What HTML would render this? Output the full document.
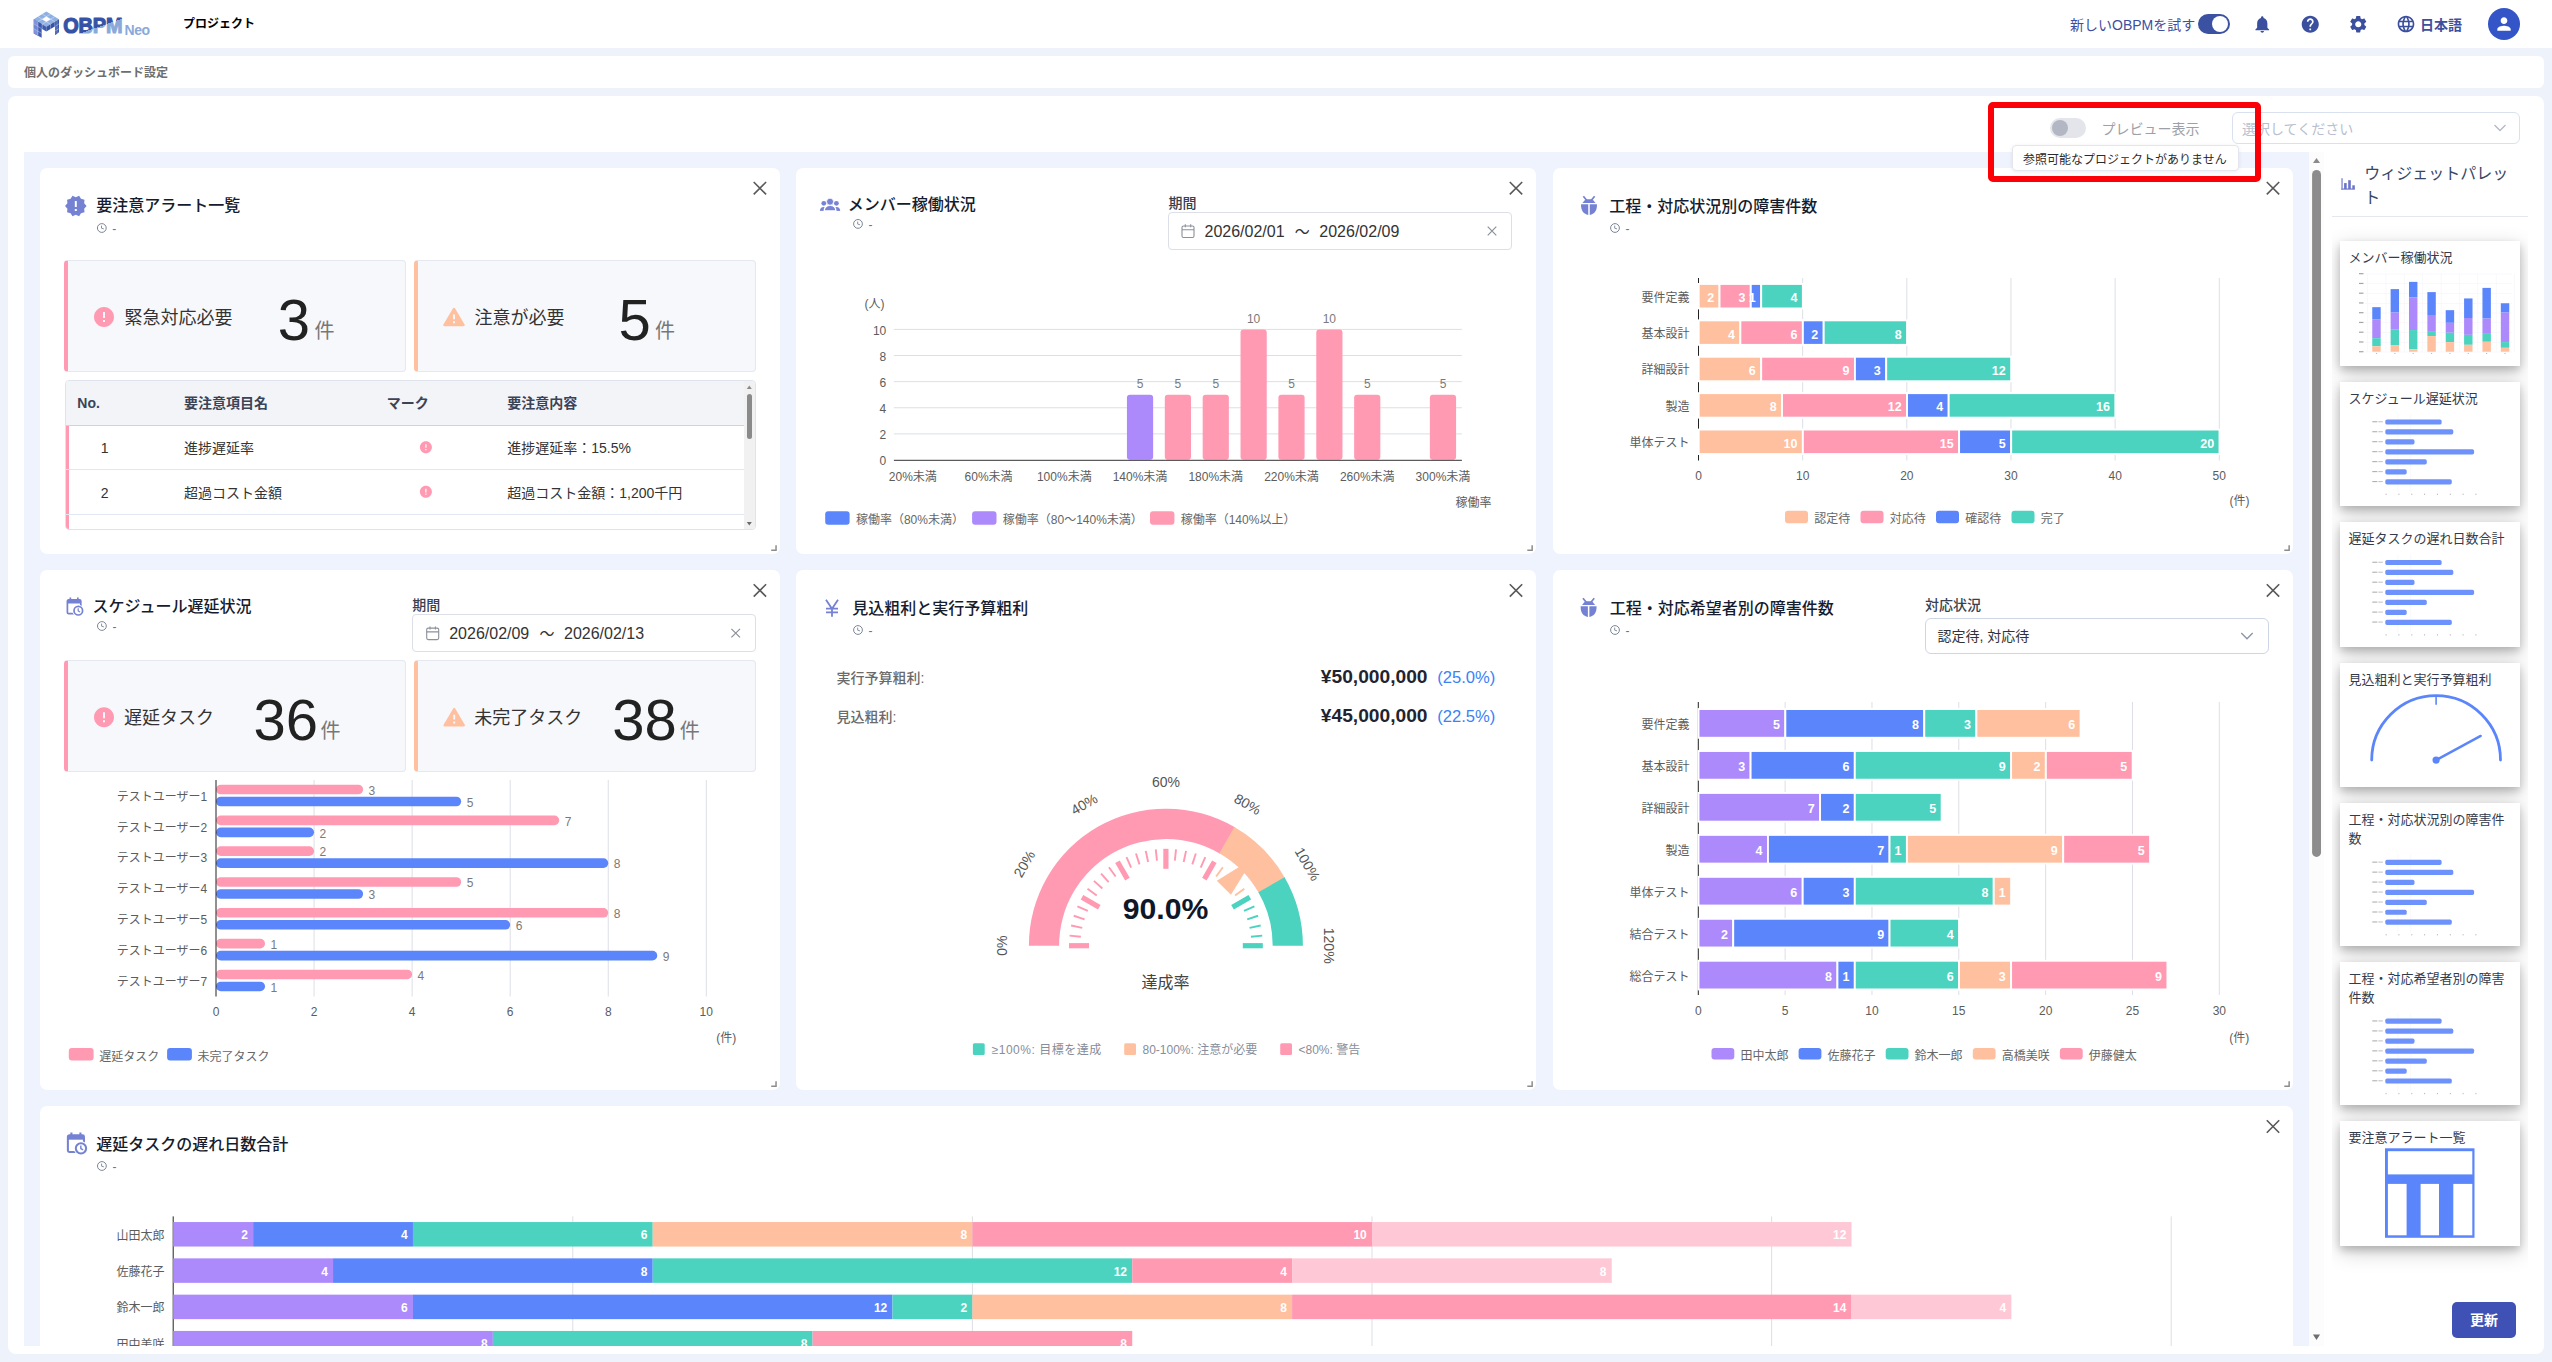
<!DOCTYPE html>
<html lang="ja"><head><meta charset="utf-8"><title>個人のダッシュボード設定</title>
<style>
html,body{margin:0;padding:0}
body{width:2552px;height:1362px;overflow:hidden;background:#eef2fb;position:relative;font-family:"Liberation Sans","Noto Sans CJK JP",sans-serif;color:#333}
.t{position:absolute;white-space:nowrap}
.b{position:absolute;box-sizing:border-box}
svg text{font-family:"Liberation Sans","Noto Sans CJK JP",sans-serif}
#dash{position:absolute;left:24px;top:152px;width:2285px;height:1193.5px;overflow:hidden;background:#eff3fe}
#dashin{position:absolute;left:-24px;top:-152px;width:2552px;height:1500px}
#ov{position:absolute;left:0;top:0}
</style></head><body>
<div class="b" style="left:0.0px;top:0.0px;width:2552.0px;height:48.0px;background:#fff"></div><svg class="b" style="left:33.090px;top:10.620px" width="26.490" height="27.510" viewBox="100 130 520 540">
<polygon points="362,140 610,290 362,440 115,290" fill="#8fb0e2"/>
<polygon points="115,290 362,440 362,533 270,477 270,655 115,570" fill="#3f5cb2"/>
<polygon points="115,290 197,340 197,433 115,383" fill="#8093d9"/>
<polygon points="115,383 197,433 197,526 115,476" fill="#6f86d2"/>
<polygon points="115,476 197,526 197,615 115,570" fill="#8093d9"/>
<polygon points="197,340 270,384 270,477 197,433" fill="#3c59b0"/>
<polygon points="362,440 610,290 610,545 535,605 535,428 362,533" fill="#3553a8"/>
<polygon points="362,240 445,290 362,340 280,290" fill="#fff"/>
<path d="M197,240 L445,390 M280,190 L528,340 M528,240 L280,390 M445,190 L197,340 M197,340 V615 M280,390 V480 M445,390 V483 M528,340 V435 M115,383 L270,477 M362,533 L362,533 M115,476 L270,570 M610,383 L535,428 M610,476 L535,520 M572,313 V575" stroke="#fff" stroke-width="9" fill="none" opacity=".75"/>
</svg><svg class="b" style="left:60px;top:8px" width="70" height="32" viewBox="0 0 70 32"><defs><linearGradient id="lg" gradientUnits="userSpaceOnUse" x1="26.800" y1="-2.500" x2="29.920" y2="7.500"><stop offset="0" stop-color="#3552a6"/><stop offset="0.001" stop-color="#8aa9d9"/></linearGradient></defs><text x="0" y="0" transform="translate(3.300 25.400) scale(.893 1)" font-size="22.300" font-weight="700" letter-spacing="-.2" fill="url(#lg)" stroke="url(#lg)" stroke-width="1.2" stroke-linejoin="round">OBPM</text></svg><div class="t" style="top:21.5px;height:16px;line-height:16px;font-size:14px;color:#8aa9d9;font-weight:700;letter-spacing:-0.5px;left:124.6px;">Neo</div><div class="t" style="top:15.4px;height:18px;line-height:18px;font-size:12px;color:#000;font-weight:700;left:183.0px;">プロジェクト</div><div class="t" style="top:14.9px;height:21px;line-height:21px;font-size:14px;color:#3d4fa0;left:2070.0px;">新しいOBPMを試す</div><div class="b" style="left:2198.0px;top:14.0px;width:32.0px;height:20.0px;background:#3b52a3;border-radius:10px"><div class="b" style="right:2px;top:2px;width:16px;height:16px;border-radius:8px;background:#fff"></div></div><svg class="b" style="left:2252.1px;top:13.8px" width="20.5" height="20.5" viewBox="0 0 24 24"><path d="M12 22c1.1 0 2-.9 2-2h-4c0 1.1.89 2 2 2zm6-6v-5c0-3.07-1.64-5.64-4.5-6.32V4c0-.83-.67-1.5-1.5-1.5s-1.5.67-1.5 1.5v.68C7.63 5.36 6 7.92 6 11v5l-2 2v1h16v-1l-2-2z" fill="#3b4f9f"/></svg><svg class="b" style="left:2300.1px;top:13.8px" width="20.5" height="20.5" viewBox="0 0 24 24"><path d="M12 2C6.48 2 2 6.48 2 12s4.48 10 10 10 10-4.48 10-10S17.52 2 12 2zm1 17h-2v-2h2v2zm2.07-7.75l-.9.92C13.45 12.9 13 13.5 13 15h-2v-.5c0-1.1.45-2.1 1.17-2.83l1.24-1.26c.37-.36.59-.86.59-1.41 0-1.1-.9-2-2-2s-2 .9-2 2H8c0-2.21 1.79-4 4-4s4 1.79 4 4c0 .88-.36 1.68-.93 2.25z" fill="#3b4f9f"/></svg><svg class="b" style="left:2348.1px;top:13.8px" width="20.5" height="20.5" viewBox="0 0 24 24"><path d="M19.14 12.94c.04-.3.06-.61.06-.94 0-.32-.02-.64-.07-.94l2.03-1.58c.18-.14.23-.41.12-.61l-1.92-3.32c-.12-.22-.37-.29-.59-.22l-2.39.96c-.5-.38-1.03-.7-1.62-.94l-.36-2.54c-.04-.24-.24-.41-.48-.41h-3.84c-.24 0-.43.17-.47.41l-.36 2.54c-.59.24-1.13.57-1.62.94l-2.39-.96c-.22-.08-.47 0-.59.22L2.74 8.87c-.12.21-.08.47.12.61l2.03 1.58c-.05.3-.09.63-.09.94s.02.64.07.94l-2.03 1.58c-.18.14-.23.41-.12.61l1.92 3.32c.12.22.37.29.59.22l2.39-.96c.5.38 1.03.7 1.62.94l.36 2.54c.05.24.24.41.48.41h3.84c.24 0 .44-.17.47-.41l.36-2.54c.59-.24 1.13-.56 1.62-.94l2.39.96c.22.08.47 0 .59-.22l1.92-3.32c.12-.22.07-.47-.12-.61l-2.01-1.58zM12 15.6c-1.98 0-3.6-1.62-3.6-3.6s1.62-3.6 3.6-3.6 3.6 1.62 3.6 3.6-1.62 3.6-3.6 3.6z" fill="#3b4f9f"/></svg><svg class="b" style="left:2396.2px;top:14.0px" width="20" height="20" viewBox="0 0 24 24"><path d="M11.99 2C6.47 2 2 6.48 2 12s4.47 10 9.99 10C17.52 22 22 17.52 22 12S17.52 2 11.99 2zm6.93 6h-2.95c-.32-1.25-.78-2.45-1.38-3.56 1.84.63 3.37 1.91 4.33 3.56zM12 4.04c.83 1.2 1.48 2.53 1.91 3.96h-3.82c.43-1.43 1.08-2.76 1.91-3.96zM4.26 14C4.1 13.36 4 12.69 4 12s.1-1.36.26-2h3.38c-.08.66-.14 1.32-.14 2 0 .68.06 1.34.14 2H4.26zm.82 2h2.95c.32 1.25.78 2.45 1.38 3.56-1.84-.63-3.37-1.9-4.33-3.56zm2.95-8H5.08c.96-1.66 2.49-2.93 4.33-3.56C8.81 5.55 8.35 6.75 8.03 8zM12 19.96c-.83-1.2-1.48-2.53-1.91-3.96h3.82c-.43 1.43-1.08 2.76-1.91 3.96zM14.34 14H9.66c-.09-.66-.16-1.32-.16-2 0-.68.07-1.35.16-2h4.68c.09.65.16 1.32.16 2 0 .68-.07 1.34-.16 2zm.25 5.56c.6-1.11 1.06-2.31 1.38-3.56h2.95c-.96 1.65-2.49 2.93-4.33 3.56zM16.36 14c.08-.66.14-1.32.14-2 0-.68-.06-1.34-.14-2h3.38c.16.64.26 1.31.26 2s-.1 1.36-.26 2h-3.38z" fill="#3b4f9f"/></svg><div class="t" style="top:14.9px;height:21px;line-height:21px;font-size:14px;color:#3d4fa0;font-weight:700;left:2420.0px;">日本語</div><div class="b" style="left:2488.0px;top:8.0px;width:32.0px;height:32.0px;background:#3355c8;border-radius:16px"></div><svg class="b" style="left:2494.0px;top:14.0px" width="20" height="20" viewBox="0 0 24 24"><path d="M12 12c2.21 0 4-1.79 4-4s-1.79-4-4-4-4 1.79-4 4 1.79 4 4 4zm0 2c-2.67 0-8 1.34-8 4v2h16v-2c0-2.66-5.33-4-8-4z" fill="#fff"/></svg><div class="b" style="left:8.0px;top:56.0px;width:2536.0px;height:32.0px;background:#fff;border-radius:6px"></div><div class="t" style="top:64.4px;height:18px;line-height:18px;font-size:12px;color:#6e6e6e;font-weight:700;left:24.0px;">個人のダッシュボード設定</div><div class="b" style="left:8.0px;top:96.0px;width:2536.0px;height:1258.0px;background:#fff;border-radius:8px"></div><div class="b" style="left:2050.0px;top:118.0px;width:36.0px;height:20.0px;background:#e3e5ea;border-radius:10px"><div class="b" style="left:2px;top:2px;width:16px;height:16px;border-radius:8px;background:#b3b7c3"></div></div><div class="t" style="top:118.5px;height:21px;line-height:21px;font-size:14px;color:#9da0a8;left:2101.5px;">プレビュー表示</div><div class="b" style="left:2231.8px;top:111.6px;width:288.6px;height:32.8px;background:#fff;border:1px solid #d9e0ee;border-radius:6px"></div><div class="t" style="top:118.7px;height:21px;line-height:21px;font-size:14px;color:#b7bfd0;left:2242.0px;">選択してください</div><svg class="b" style="left:2493px;top:123px" width="14" height="10" viewBox="0 0 14 10"><path d="M1.5 2 L7 7.5 L12.5 2" fill="none" stroke="#b3b9c6" stroke-width="1.3"/></svg><div class="b" style="left:2309.0px;top:152.0px;width:15.0px;height:1193.5px;background:#fcfcfc"></div><svg class="b" style="left:2309px;top:152px" width="15" height="1194" viewBox="0 0 15 1194"><path d="M7.5 6 L11 11 L4 11 Z" fill="#8a8a8a"/><path d="M7.5 1188 L11 1182.5 L4 1182.5 Z" fill="#6e6e6e"/><rect x="3.100" y="18" width="8.900" height="686.900" rx="4.450" fill="#8c8c8c"/></svg>
<div id="dash"><div id="dashin">
<div class="b" style="left:39.7px;top:167.5px;width:740.4px;height:386.6px;background:#fff;border-radius:7px"></div><div class="t" style="top:194.0px;height:24px;line-height:24px;font-size:16px;color:#151c2e;font-weight:500;left:96.3px;">要注意アラート一覧</div><div class="t" style="top:220.3px;height:18px;line-height:18px;font-size:12px;color:#6b7280;left:112.3px;">-</div><div class="b" style="left:64.0px;top:259.8px;width:342.0px;height:112.4px;background:#f7f8fc;border:1px solid #e6e8f0;border-left:4px solid #ff9ab2;border-radius:4px"></div><div class="t" style="top:303.6px;height:28px;line-height:28px;font-size:18px;color:#333;left:124.5px;">緊急対応必要</div><div class="t" style="top:285.0px;height:70px;line-height:70px;font-size:58px;color:#222;left:-106.0px;width:800px;text-align:center;">3</div><div class="t" style="top:317.0px;height:28px;line-height:28px;font-size:20px;color:#777;left:314.5px;">件</div><div class="b" style="left:414.0px;top:259.8px;width:342.0px;height:112.4px;background:#f7f8fc;border:1px solid #e6e8f0;border-left:4px solid #ffc09f;border-radius:4px"></div><div class="t" style="top:303.6px;height:28px;line-height:28px;font-size:18px;color:#333;left:474.5px;">注意が必要</div><div class="t" style="top:285.0px;height:70px;line-height:70px;font-size:58px;color:#222;left:234.7px;width:800px;text-align:center;">5</div><div class="t" style="top:317.0px;height:28px;line-height:28px;font-size:20px;color:#777;left:655.0px;">件</div><div class="b" style="left:64.5px;top:380.0px;width:691.0px;height:149.5px;background:#fff;border:1px solid #dfe3eb;border-radius:4px;overflow:hidden"><div class="b" style="left:0;top:0;width:680px;height:45px;background:#f3f4f7;border-bottom:1px solid #c9d4e8"></div><div class="b" style="left:0;top:45px;width:3.500px;height:110px;background:#ff9ab2"></div><div class="b" style="left:0;top:88.200px;width:680px;height:1px;background:#e1e6f0"></div><div class="b" style="left:0;top:132.800px;width:680px;height:1px;background:#e1e6f0"></div><div class="b" style="right:0;top:0;width:10.5px;height:150px;background:#f1f1f1"></div><div class="b" style="right:2.5px;top:12.5px;width:5.5px;height:45px;border-radius:3px;background:#8a8a8a"></div><svg class="b" style="right:0;top:0" width="11" height="148" viewBox="0 0 11 148"><path d="M5.300 4.500 L7.800 8 L2.800 8 Z" fill="#8a8a8a"/><path d="M5.300 144.500 L7.800 141 L2.800 141 Z" fill="#6a6a6a"/></svg></div><div class="t" style="top:393.3px;height:21px;line-height:21px;font-size:14px;color:#3b4357;font-weight:700;left:77.3px;">No.</div><div class="t" style="top:393.3px;height:21px;line-height:21px;font-size:14px;color:#3b4357;font-weight:700;left:184.0px;">要注意項目名</div><div class="t" style="top:393.3px;height:21px;line-height:21px;font-size:14px;color:#3b4357;font-weight:700;left:386.8px;">マーク</div><div class="t" style="top:393.3px;height:21px;line-height:21px;font-size:14px;color:#3b4357;font-weight:700;left:507.3px;">要注意内容</div><div class="t" style="top:438.2px;height:21px;line-height:21px;font-size:14px;color:#333;left:-295.3px;width:800px;text-align:center;">1</div><div class="t" style="top:438.2px;height:21px;line-height:21px;font-size:14px;color:#333;left:184.0px;">進捗遅延率</div><div class="t" style="top:438.2px;height:21px;line-height:21px;font-size:14px;color:#333;left:507.3px;">進捗遅延率：15.5%</div><div class="t" style="top:482.8px;height:21px;line-height:21px;font-size:14px;color:#333;left:-295.3px;width:800px;text-align:center;">2</div><div class="t" style="top:482.8px;height:21px;line-height:21px;font-size:14px;color:#333;left:184.0px;">超過コスト金額</div><div class="t" style="top:482.8px;height:21px;line-height:21px;font-size:14px;color:#333;left:507.3px;">超過コスト金額：1,200千円</div><div class="b" style="left:795.8px;top:167.5px;width:740.4px;height:386.6px;background:#fff;border-radius:7px"></div><div class="t" style="top:192.9px;height:24px;line-height:24px;font-size:16px;color:#151c2e;font-weight:500;left:847.7px;">メンバー稼働状況</div><div class="t" style="top:216.2px;height:18px;line-height:18px;font-size:12px;color:#6b7280;left:868.5px;">-</div><div class="t" style="top:192.7px;height:21px;line-height:21px;font-size:14px;color:#39414f;font-weight:500;left:1168.4px;">期間</div><div class="b" style="left:1167.6px;top:211.8px;width:344.4px;height:38.4px;background:#fff;border:1px solid #dcdfe6;border-radius:4px"></div><div class="t" style="top:219.5px;height:24px;line-height:24px;font-size:16px;color:#333;left:1204.5px;">2026/02/01</div><div class="t" style="top:219.5px;height:24px;line-height:24px;font-size:15px;color:#333;font-weight:400;left:902.2px;width:800px;text-align:center;">〜</div><div class="t" style="top:219.5px;height:24px;line-height:24px;font-size:16px;color:#333;left:1319.3px;">2026/02/09</div><div class="b" style="left:1552.8px;top:167.5px;width:740.4px;height:386.6px;background:#fff;border-radius:7px"></div><div class="t" style="top:194.8px;height:24px;line-height:24px;font-size:16px;color:#151c2e;font-weight:500;left:1609.2px;">工程・対応状況別の障害件数</div><div class="t" style="top:220.3px;height:18px;line-height:18px;font-size:12px;color:#6b7280;left:1625.5px;">-</div><div class="b" style="left:39.7px;top:569.7px;width:740.4px;height:520.3px;background:#fff;border-radius:7px"></div><div class="t" style="top:595.0px;height:24px;line-height:24px;font-size:16px;color:#151c2e;font-weight:500;left:92.5px;">スケジュール遅延状況</div><div class="t" style="top:618.3px;height:18px;line-height:18px;font-size:12px;color:#6b7280;left:112.4px;">-</div><div class="t" style="top:594.5px;height:21px;line-height:21px;font-size:14px;color:#39414f;font-weight:500;left:412.2px;">期間</div><div class="b" style="left:412.3px;top:614.0px;width:343.4px;height:38.3px;background:#fff;border:1px solid #dcdfe6;border-radius:4px"></div><div class="t" style="top:621.6px;height:24px;line-height:24px;font-size:16px;color:#333;left:449.2px;">2026/02/09</div><div class="t" style="top:621.6px;height:24px;line-height:24px;font-size:15px;color:#333;font-weight:400;left:146.9px;width:800px;text-align:center;">〜</div><div class="t" style="top:621.6px;height:24px;line-height:24px;font-size:16px;color:#333;left:564.0px;">2026/02/13</div><div class="b" style="left:64.0px;top:659.9px;width:341.6px;height:112.6px;background:#f7f8fc;border:1px solid #e6e8f0;border-left:4px solid #ff9ab2;border-radius:4px"></div><div class="t" style="top:703.8px;height:28px;line-height:28px;font-size:18px;color:#333;left:124.0px;">遅延タスク</div><div class="t" style="top:685.2px;height:70px;line-height:70px;font-size:58px;color:#222;left:-114.3px;width:800px;text-align:center;">36</div><div class="t" style="top:717.2px;height:28px;line-height:28px;font-size:20px;color:#777;left:320.5px;">件</div><div class="b" style="left:414.2px;top:659.9px;width:341.5px;height:112.6px;background:#f7f8fc;border:1px solid #e6e8f0;border-left:4px solid #ffc09f;border-radius:4px"></div><div class="t" style="top:703.8px;height:28px;line-height:28px;font-size:18px;color:#333;left:474.2px;">未完了タスク</div><div class="t" style="top:685.2px;height:70px;line-height:70px;font-size:58px;color:#222;left:244.6px;width:800px;text-align:center;">38</div><div class="t" style="top:717.2px;height:28px;line-height:28px;font-size:20px;color:#777;left:679.8px;">件</div><div class="b" style="left:795.8px;top:569.7px;width:740.4px;height:520.3px;background:#fff;border-radius:7px"></div><div class="t" style="top:596.8px;height:24px;line-height:24px;font-size:16px;color:#151c2e;font-weight:500;left:852.3px;">見込粗利と実行予算粗利</div><div class="t" style="top:622.3px;height:18px;line-height:18px;font-size:12px;color:#6b7280;left:868.5px;">-</div><div class="t" style="top:667.8px;height:21px;line-height:21px;font-size:14px;color:#6a6a6a;font-weight:500;left:836.4px;">実行予算粗利:</div><div class="t" style="top:707.0px;height:21px;line-height:21px;font-size:14px;color:#6a6a6a;font-weight:500;left:836.4px;">見込粗利:</div><div class="t" style="top:663.1px;height:28px;line-height:28px;font-size:19.2px;color:#1f2430;font-weight:700;right:1124.5px;text-align:right;">¥50,000,000</div><div class="t" style="top:665.6px;height:24px;line-height:24px;font-size:16.6px;color:#3b82f6;font-weight:500;right:1056.7px;text-align:right;">(25.0%)</div><div class="t" style="top:702.3px;height:28px;line-height:28px;font-size:19.2px;color:#1f2430;font-weight:700;right:1124.5px;text-align:right;">¥45,000,000</div><div class="t" style="top:704.8px;height:24px;line-height:24px;font-size:16.6px;color:#3b82f6;font-weight:500;right:1056.7px;text-align:right;">(22.5%)</div><div class="t" style="top:889.3px;height:40px;line-height:40px;font-size:30.2px;color:#0f172a;font-weight:700;left:765.6px;width:800px;text-align:center;">90.0%</div><div class="t" style="top:971.1px;height:24px;line-height:24px;font-size:16px;color:#444;left:765.6px;width:800px;text-align:center;">達成率</div><div class="b" style="left:1552.8px;top:569.7px;width:740.4px;height:520.3px;background:#fff;border-radius:7px"></div><div class="t" style="top:596.8px;height:24px;line-height:24px;font-size:16px;color:#151c2e;font-weight:500;left:1609.8px;">工程・対応希望者別の障害件数</div><div class="t" style="top:622.3px;height:18px;line-height:18px;font-size:12px;color:#6b7280;left:1625.5px;">-</div><div class="t" style="top:594.5px;height:21px;line-height:21px;font-size:14px;color:#39414f;font-weight:500;left:1925.0px;">対応状況</div><div class="b" style="left:1925.0px;top:618.0px;width:343.7px;height:35.5px;background:#fff;border:1px solid #cdd5e6;border-radius:6px"></div><div class="t" style="top:625.9px;height:21px;line-height:21px;font-size:14px;color:#333;left:1937.5px;">認定待, 対応待</div><div class="b" style="left:39.7px;top:1105.8px;width:2253.5px;height:394.2px;background:#fff;border-radius:7px"></div><div class="t" style="top:1132.5px;height:24px;line-height:24px;font-size:16px;color:#151c2e;font-weight:500;left:96.3px;">遅延タスクの遅れ日数合計</div><div class="t" style="top:1158.3px;height:18px;line-height:18px;font-size:12px;color:#6b7280;left:112.4px;">-</div>
<svg id="ov" width="2552" height="1500" viewBox="0 0 2552 1500"><path d="M753.7 182.0 L766.1 194.4 M766.1 182.0 L753.7 194.4" stroke="#595959" stroke-width="1.6" fill="none"/><path d="M776.05 545.30 L776.05 550.25 L771.20 550.25" stroke="#8c8c8c" stroke-width="1.5" fill="none"/><path transform="translate(64.05 194.25) scale(0.9792)" d="M23 12l-2.44-2.78.34-3.68-3.61-.82-1.89-3.18L12 3 8.6 1.54 6.71 4.72l-3.61.81.34 3.68L1 12l2.44 2.78-.34 3.69 3.61.82 1.89 3.18L12 21l3.4 1.46 1.89-3.18 3.61-.82-.34-3.68L23 12zm-10 5h-2v-2h2v2zm0-4h-2V7h2v6z" fill="#7582d3"/><circle cx="101.8" cy="228.0" r="4.4" fill="none" stroke="#7c8596" stroke-width="1"/><path d="M101.5 225.6 L101.5 228.2 L103.8 228.9" fill="none" stroke="#7c8596" stroke-width="0.9"/><path transform="translate(92.00 305.00) scale(1.0000)" d="M12 2C6.48 2 2 6.48 2 12s4.48 10 10 10 10-4.48 10-10S17.52 2 12 2zm1 15h-2v-2h2v2zm0-4h-2V7h2v6z" fill="#ff9ab2"/><path transform="translate(442.20 305.60) scale(0.9833)" d="M2.2 21h19.6c.9 0 1.4-.9 1-1.700L13 2.700c-.45-.8-1.55-.8-2 0L1.200 19.300c-.4.8.1 1.700 1 1.700zM13 18h-2v-2h2v2zm0-4h-2V9h2v5z" fill="#ffc09f"/><path transform="translate(418.70 440.00) scale(0.6000)" d="M12 2C6.48 2 2 6.48 2 12s4.48 10 10 10 10-4.48 10-10S17.52 2 12 2zm1 15h-2v-2h2v2zm0-4h-2V7h2v6z" fill="#ff9ab2"/><path transform="translate(418.70 484.60) scale(0.6000)" d="M12 2C6.48 2 2 6.48 2 12s4.48 10 10 10 10-4.48 10-10S17.52 2 12 2zm1 15h-2v-2h2v2zm0-4h-2V7h2v6z" fill="#ff9ab2"/><path d="M1509.8 182.0 L1522.2 194.4 M1522.2 182.0 L1509.8 194.4" stroke="#595959" stroke-width="1.6" fill="none"/><path d="M1532.15 545.30 L1532.15 550.25 L1527.30 550.25" stroke="#8c8c8c" stroke-width="1.5" fill="none"/><g transform="translate(819.90 198.20)" fill="#7883d6"><circle cx="3.900" cy="5.100" r="2.400"/><circle cx="16.500" cy="5.100" r="2.400"/><path d="M0 12.700 C0 10.200 1.600 8.800 3.800 8.800 C6 8.800 7.200 10.200 7.200 12.700 Z"/><path d="M20.300 12.700 C20.300 10.200 18.700 8.800 16.500 8.800 C14.300 8.800 13.100 10.200 13.100 12.700 Z"/><path d="M4.300 12.700 C4.300 9 7 7.200 10.150 7.200 C13.300 7.200 16 9 16 12.700 Z" stroke="#fff" stroke-width="1.300"/><rect x="0" y="12.700" width="21" height="1.500" fill="#fff"/><circle cx="10.150" cy="3.500" r="3.500" stroke="#fff" stroke-width="0.800"/></g><circle cx="858.0" cy="223.9" r="4.4" fill="none" stroke="#7c8596" stroke-width="1"/><path d="M857.7 221.5 L857.7 224.1 L860.0 224.8" fill="none" stroke="#7c8596" stroke-width="0.9"/><g transform="translate(1181.5 224.0)" fill="none" stroke="#8b909a" stroke-width="1.1"><rect x="0.5" y="2" width="12" height="11.500" rx="1.500"/><path d="M0.5 5.800 H12.5 M3.800 0.300 V3.300 M9.200 0.300 V3.300"/></g><path d="M1487.7 226.7 L1496.3 235.3 M1496.3 226.7 L1487.7 235.3" stroke="#8b909a" stroke-width="1.2" fill="none"/><line x1="893.90" y1="433.88" x2="1461.90" y2="433.88" stroke="#dddfe6" stroke-width="1" /><line x1="893.90" y1="407.76" x2="1461.90" y2="407.76" stroke="#dddfe6" stroke-width="1" /><line x1="893.90" y1="381.64" x2="1461.90" y2="381.64" stroke="#dddfe6" stroke-width="1" /><line x1="893.90" y1="355.52" x2="1461.90" y2="355.52" stroke="#dddfe6" stroke-width="1" /><line x1="893.90" y1="329.40" x2="1461.90" y2="329.40" stroke="#dddfe6" stroke-width="1" /><text x="886.30" y="461.20" font-size="12" fill="#5c5c5c" text-anchor="end" dominant-baseline="central" >0</text><text x="886.30" y="435.08" font-size="12" fill="#5c5c5c" text-anchor="end" dominant-baseline="central" >2</text><text x="886.30" y="408.96" font-size="12" fill="#5c5c5c" text-anchor="end" dominant-baseline="central" >4</text><text x="886.30" y="382.84" font-size="12" fill="#5c5c5c" text-anchor="end" dominant-baseline="central" >6</text><text x="886.30" y="356.72" font-size="12" fill="#5c5c5c" text-anchor="end" dominant-baseline="central" >8</text><text x="886.30" y="330.60" font-size="12" fill="#5c5c5c" text-anchor="end" dominant-baseline="central" >10</text><text x="874.50" y="304.10" font-size="12" fill="#5c5c5c" text-anchor="middle" dominant-baseline="central" >(人)</text><rect x="1126.93" y="394.70" width="26.20" height="65.00" fill="#ac8afc" rx="3" /><text x="1140.03" y="384.30" font-size="12" fill="#7a7a7a" text-anchor="middle" dominant-baseline="central" >5</text><rect x="1164.80" y="394.70" width="26.20" height="65.00" fill="#ff9ab2" rx="3" /><text x="1177.90" y="384.30" font-size="12" fill="#7a7a7a" text-anchor="middle" dominant-baseline="central" >5</text><rect x="1202.67" y="394.70" width="26.20" height="65.00" fill="#ff9ab2" rx="3" /><text x="1215.77" y="384.30" font-size="12" fill="#7a7a7a" text-anchor="middle" dominant-baseline="central" >5</text><rect x="1240.53" y="329.40" width="26.20" height="130.30" fill="#ff9ab2" rx="3" /><text x="1253.63" y="319.00" font-size="12" fill="#7a7a7a" text-anchor="middle" dominant-baseline="central" >10</text><rect x="1278.40" y="394.70" width="26.20" height="65.00" fill="#ff9ab2" rx="3" /><text x="1291.50" y="384.30" font-size="12" fill="#7a7a7a" text-anchor="middle" dominant-baseline="central" >5</text><rect x="1316.27" y="329.40" width="26.20" height="130.30" fill="#ff9ab2" rx="3" /><text x="1329.37" y="319.00" font-size="12" fill="#7a7a7a" text-anchor="middle" dominant-baseline="central" >10</text><rect x="1354.13" y="394.70" width="26.20" height="65.00" fill="#ff9ab2" rx="3" /><text x="1367.23" y="384.30" font-size="12" fill="#7a7a7a" text-anchor="middle" dominant-baseline="central" >5</text><rect x="1429.87" y="394.70" width="26.20" height="65.00" fill="#ff9ab2" rx="3" /><text x="1442.97" y="384.30" font-size="12" fill="#7a7a7a" text-anchor="middle" dominant-baseline="central" >5</text><line x1="893.90" y1="460.30" x2="1461.90" y2="460.30" stroke="#333" stroke-width="1" /><text x="912.83" y="476.50" font-size="12" fill="#5c5c5c" text-anchor="middle" dominant-baseline="central" >20%未満</text><text x="988.57" y="476.50" font-size="12" fill="#5c5c5c" text-anchor="middle" dominant-baseline="central" >60%未満</text><text x="1064.30" y="476.50" font-size="12" fill="#5c5c5c" text-anchor="middle" dominant-baseline="central" >100%未満</text><text x="1140.03" y="476.50" font-size="12" fill="#5c5c5c" text-anchor="middle" dominant-baseline="central" >140%未満</text><text x="1215.77" y="476.50" font-size="12" fill="#5c5c5c" text-anchor="middle" dominant-baseline="central" >180%未満</text><text x="1291.50" y="476.50" font-size="12" fill="#5c5c5c" text-anchor="middle" dominant-baseline="central" >220%未満</text><text x="1367.23" y="476.50" font-size="12" fill="#5c5c5c" text-anchor="middle" dominant-baseline="central" >260%未満</text><text x="1442.97" y="476.50" font-size="12" fill="#5c5c5c" text-anchor="middle" dominant-baseline="central" >300%未満</text><text x="1473.40" y="502.50" font-size="12" fill="#5c5c5c" text-anchor="middle" dominant-baseline="central" >稼働率</text><rect x="825.20" y="511.20" width="24.40" height="13.60" fill="#5b85fb" rx="3" /><text x="855.90" y="520.30" font-size="12" fill="#666" text-anchor="start" dominant-baseline="central" >稼働率（80%未満）</text><rect x="972.10" y="511.20" width="24.40" height="13.60" fill="#ac8afc" rx="3" /><text x="1002.80" y="520.30" font-size="12" fill="#666" text-anchor="start" dominant-baseline="central" >稼働率（80〜140%未満）</text><rect x="1150.00" y="511.20" width="24.40" height="13.60" fill="#ff9ab2" rx="3" /><text x="1180.70" y="520.30" font-size="12" fill="#666" text-anchor="start" dominant-baseline="central" >稼働率（140%以上）</text><path d="M2266.8 182.0 L2279.2 194.4 M2279.2 182.0 L2266.8 194.4" stroke="#595959" stroke-width="1.6" fill="none"/><path d="M2289.15 545.30 L2289.15 550.25 L2284.30 550.25" stroke="#8c8c8c" stroke-width="1.5" fill="none"/><g transform="translate(1580.75 196.00)" fill="#7582d3"><path d="M2.6 0.3 L5.9 4.300 M13.900 0.3 L10.6 4.300" stroke="#7582d3" stroke-width="1.700" fill="none"/><path d="M4.800 3.2 L11.700 3.2 L14.8 7 L1.700 7 Z"/><path d="M0.3 8.300 L7.5 8.300 L7.5 19 C3 18.200 0 14.8 0.3 8.300 Z"/><path d="M9 8.300 L16.200 8.300 C16.5 14.8 13.5 18.200 9 19 Z"/></g><circle cx="1615.0" cy="228.0" r="4.4" fill="none" stroke="#7c8596" stroke-width="1"/><path d="M1614.7 225.6 L1614.7 228.2 L1617.0 228.9" fill="none" stroke="#7c8596" stroke-width="0.9"/><line x1="1802.66" y1="278.00" x2="1802.66" y2="460.50" stroke="#dddfe6" stroke-width="1" /><line x1="1906.82" y1="278.00" x2="1906.82" y2="460.50" stroke="#dddfe6" stroke-width="1" /><line x1="2010.98" y1="278.00" x2="2010.98" y2="460.50" stroke="#dddfe6" stroke-width="1" /><line x1="2115.14" y1="278.00" x2="2115.14" y2="460.50" stroke="#dddfe6" stroke-width="1" /><line x1="2219.30" y1="278.00" x2="2219.30" y2="460.50" stroke="#dddfe6" stroke-width="1" /><line x1="1698.50" y1="278.00" x2="1698.50" y2="460.50" stroke="#222" stroke-width="1" /><rect x="1698.70" y="283.95" width="20.83" height="24.50" fill="#ffc09f" stroke="#fff" stroke-width="1.9"/><text x="1714.13" y="298.20" font-size="12.5" fill="#fff" text-anchor="end" dominant-baseline="central" font-weight="700" >2</text><rect x="1719.53" y="283.95" width="31.25" height="24.50" fill="#ff9ab2" stroke="#fff" stroke-width="1.9"/><text x="1745.38" y="298.20" font-size="12.5" fill="#fff" text-anchor="end" dominant-baseline="central" font-weight="700" >3</text><rect x="1750.78" y="283.95" width="10.42" height="24.50" fill="#5b85fb" stroke="#fff" stroke-width="1.9"/><text x="1755.80" y="298.20" font-size="12.5" fill="#fff" text-anchor="end" dominant-baseline="central" font-weight="700" >1</text><rect x="1761.20" y="283.95" width="41.66" height="24.50" fill="#4bd3c0" stroke="#fff" stroke-width="1.9"/><text x="1797.46" y="298.20" font-size="12.5" fill="#fff" text-anchor="end" dominant-baseline="central" font-weight="700" >4</text><rect x="1698.70" y="320.35" width="41.66" height="24.50" fill="#ffc09f" stroke="#fff" stroke-width="1.9"/><text x="1734.96" y="334.60" font-size="12.5" fill="#fff" text-anchor="end" dominant-baseline="central" font-weight="700" >4</text><rect x="1740.36" y="320.35" width="62.50" height="24.50" fill="#ff9ab2" stroke="#fff" stroke-width="1.9"/><text x="1797.46" y="334.60" font-size="12.5" fill="#fff" text-anchor="end" dominant-baseline="central" font-weight="700" >6</text><rect x="1802.86" y="320.35" width="20.83" height="24.50" fill="#5b85fb" stroke="#fff" stroke-width="1.9"/><text x="1818.29" y="334.60" font-size="12.5" fill="#fff" text-anchor="end" dominant-baseline="central" font-weight="700" >2</text><rect x="1823.69" y="320.35" width="83.33" height="24.50" fill="#4bd3c0" stroke="#fff" stroke-width="1.9"/><text x="1901.62" y="334.60" font-size="12.5" fill="#fff" text-anchor="end" dominant-baseline="central" font-weight="700" >8</text><rect x="1698.70" y="356.75" width="62.50" height="24.50" fill="#ffc09f" stroke="#fff" stroke-width="1.9"/><text x="1755.80" y="371.00" font-size="12.5" fill="#fff" text-anchor="end" dominant-baseline="central" font-weight="700" >6</text><rect x="1761.20" y="356.75" width="93.74" height="24.50" fill="#ff9ab2" stroke="#fff" stroke-width="1.9"/><text x="1849.54" y="371.00" font-size="12.5" fill="#fff" text-anchor="end" dominant-baseline="central" font-weight="700" >9</text><rect x="1854.94" y="356.75" width="31.25" height="24.50" fill="#5b85fb" stroke="#fff" stroke-width="1.9"/><text x="1880.79" y="371.00" font-size="12.5" fill="#fff" text-anchor="end" dominant-baseline="central" font-weight="700" >3</text><rect x="1886.19" y="356.75" width="124.99" height="24.50" fill="#4bd3c0" stroke="#fff" stroke-width="1.9"/><text x="2005.78" y="371.00" font-size="12.5" fill="#fff" text-anchor="end" dominant-baseline="central" font-weight="700" >12</text><rect x="1698.70" y="393.15" width="83.33" height="24.50" fill="#ffc09f" stroke="#fff" stroke-width="1.9"/><text x="1776.63" y="407.40" font-size="12.5" fill="#fff" text-anchor="end" dominant-baseline="central" font-weight="700" >8</text><rect x="1782.03" y="393.15" width="124.99" height="24.50" fill="#ff9ab2" stroke="#fff" stroke-width="1.9"/><text x="1901.62" y="407.40" font-size="12.5" fill="#fff" text-anchor="end" dominant-baseline="central" font-weight="700" >12</text><rect x="1907.02" y="393.15" width="41.66" height="24.50" fill="#5b85fb" stroke="#fff" stroke-width="1.9"/><text x="1943.28" y="407.40" font-size="12.5" fill="#fff" text-anchor="end" dominant-baseline="central" font-weight="700" >4</text><rect x="1948.68" y="393.15" width="166.66" height="24.50" fill="#4bd3c0" stroke="#fff" stroke-width="1.9"/><text x="2109.94" y="407.40" font-size="12.5" fill="#fff" text-anchor="end" dominant-baseline="central" font-weight="700" >16</text><rect x="1698.70" y="429.55" width="104.16" height="24.50" fill="#ffc09f" stroke="#fff" stroke-width="1.9"/><text x="1797.46" y="443.80" font-size="12.5" fill="#fff" text-anchor="end" dominant-baseline="central" font-weight="700" >10</text><rect x="1802.86" y="429.55" width="156.24" height="24.50" fill="#ff9ab2" stroke="#fff" stroke-width="1.9"/><text x="1953.70" y="443.80" font-size="12.5" fill="#fff" text-anchor="end" dominant-baseline="central" font-weight="700" >15</text><rect x="1959.10" y="429.55" width="52.08" height="24.50" fill="#5b85fb" stroke="#fff" stroke-width="1.9"/><text x="2005.78" y="443.80" font-size="12.5" fill="#fff" text-anchor="end" dominant-baseline="central" font-weight="700" >5</text><rect x="2011.18" y="429.55" width="208.32" height="24.50" fill="#4bd3c0" stroke="#fff" stroke-width="1.9"/><text x="2214.10" y="443.80" font-size="12.5" fill="#fff" text-anchor="end" dominant-baseline="central" font-weight="700" >20</text><text x="1689.50" y="297.60" font-size="12" fill="#5c5c5c" text-anchor="end" dominant-baseline="central" >要件定義</text><text x="1689.50" y="334.00" font-size="12" fill="#5c5c5c" text-anchor="end" dominant-baseline="central" >基本設計</text><text x="1689.50" y="370.40" font-size="12" fill="#5c5c5c" text-anchor="end" dominant-baseline="central" >詳細設計</text><text x="1689.50" y="406.80" font-size="12" fill="#5c5c5c" text-anchor="end" dominant-baseline="central" >製造</text><text x="1689.50" y="443.20" font-size="12" fill="#5c5c5c" text-anchor="end" dominant-baseline="central" >単体テスト</text><text x="1698.50" y="476.20" font-size="12" fill="#5c5c5c" text-anchor="middle" dominant-baseline="central" >0</text><text x="1802.66" y="476.20" font-size="12" fill="#5c5c5c" text-anchor="middle" dominant-baseline="central" >10</text><text x="1906.82" y="476.20" font-size="12" fill="#5c5c5c" text-anchor="middle" dominant-baseline="central" >20</text><text x="2010.98" y="476.20" font-size="12" fill="#5c5c5c" text-anchor="middle" dominant-baseline="central" >30</text><text x="2115.14" y="476.20" font-size="12" fill="#5c5c5c" text-anchor="middle" dominant-baseline="central" >40</text><text x="2219.30" y="476.20" font-size="12" fill="#5c5c5c" text-anchor="middle" dominant-baseline="central" >50</text><text x="2239.60" y="501.30" font-size="12" fill="#5c5c5c" text-anchor="middle" dominant-baseline="central" >(件)</text><rect x="1785.00" y="510.70" width="23.00" height="12.60" fill="#ffc09f" rx="3" /><text x="1814.30" y="519.30" font-size="12" fill="#666" text-anchor="start" dominant-baseline="central" >認定待</text><rect x="1860.50" y="510.70" width="23.00" height="12.60" fill="#ff9ab2" rx="3" /><text x="1889.80" y="519.30" font-size="12" fill="#666" text-anchor="start" dominant-baseline="central" >対応待</text><rect x="1936.00" y="510.70" width="23.00" height="12.60" fill="#5b85fb" rx="3" /><text x="1965.30" y="519.30" font-size="12" fill="#666" text-anchor="start" dominant-baseline="central" >確認待</text><rect x="2011.50" y="510.70" width="23.00" height="12.60" fill="#4bd3c0" rx="3" /><text x="2040.80" y="519.30" font-size="12" fill="#666" text-anchor="start" dominant-baseline="central" >完了</text><path d="M753.7 584.2 L766.1 596.6 M766.1 584.2 L753.7 596.6" stroke="#595959" stroke-width="1.6" fill="none"/><path d="M776.05 1081.20 L776.05 1086.15 L771.20 1086.15" stroke="#8c8c8c" stroke-width="1.5" fill="none"/><g transform="translate(66.50 597.50) scale(1.0)"><rect x="0.9" y="2.4" width="13.400" height="13.800" rx="1.2" fill="none" stroke="#7582d3" stroke-width="1.700"/><rect x="0.9" y="2.4" width="13.400" height="3.6" fill="#7582d3"/><rect x="3" y="0" width="1.700" height="3" fill="#7582d3"/><rect x="10.5" y="0" width="1.700" height="3" fill="#7582d3"/><circle cx="11.8" cy="13.200" r="6" fill="#fff"/><circle cx="11.8" cy="13.200" r="4.300" fill="#fff" stroke="#7582d3" stroke-width="1.700"/><path d="M11.700 10.800 L11.700 13.400 L13.600 14.500" stroke="#7582d3" stroke-width="1.200" fill="none"/></g><circle cx="101.9" cy="626.0" r="4.4" fill="none" stroke="#7c8596" stroke-width="1"/><path d="M101.6 623.6 L101.6 626.2 L103.9 626.9" fill="none" stroke="#7c8596" stroke-width="0.9"/><g transform="translate(426.2 626.1)" fill="none" stroke="#8b909a" stroke-width="1.1"><rect x="0.5" y="2" width="12" height="11.500" rx="1.500"/><path d="M0.5 5.800 H12.5 M3.800 0.300 V3.300 M9.200 0.300 V3.300"/></g><path d="M731.4 628.9 L740.0 637.4 M740.0 628.9 L731.4 637.4" stroke="#8b909a" stroke-width="1.2" fill="none"/><path transform="translate(92.00 705.20) scale(1.0000)" d="M12 2C6.48 2 2 6.48 2 12s4.48 10 10 10 10-4.48 10-10S17.52 2 12 2zm1 15h-2v-2h2v2zm0-4h-2V7h2v6z" fill="#ff9ab2"/><path transform="translate(442.40 705.80) scale(0.9833)" d="M2.2 21h19.6c.9 0 1.4-.9 1-1.700L13 2.700c-.45-.8-1.55-.8-2 0L1.200 19.300c-.4.8.1 1.700 1 1.700zM13 18h-2v-2h2v2zm0-4h-2V9h2v5z" fill="#ffc09f"/><line x1="314.06" y1="780.00" x2="314.06" y2="996.50" stroke="#dddfe6" stroke-width="1" /><line x1="412.12" y1="780.00" x2="412.12" y2="996.50" stroke="#dddfe6" stroke-width="1" /><line x1="510.18" y1="780.00" x2="510.18" y2="996.50" stroke="#dddfe6" stroke-width="1" /><line x1="608.24" y1="780.00" x2="608.24" y2="996.50" stroke="#dddfe6" stroke-width="1" /><line x1="706.30" y1="780.00" x2="706.30" y2="996.50" stroke="#dddfe6" stroke-width="1" /><rect x="216.00" y="784.70" width="147.09" height="9.60" fill="#ff9ab2" rx="4.8" /><text x="368.59" y="790.70" font-size="12" fill="#7a7a7a" text-anchor="start" dominant-baseline="central" >3</text><rect x="216.00" y="796.70" width="245.15" height="9.60" fill="#5b85fb" rx="4.8" /><text x="466.65" y="802.70" font-size="12" fill="#7a7a7a" text-anchor="start" dominant-baseline="central" >5</text><text x="207.30" y="796.80" font-size="12" fill="#5c5c5c" text-anchor="end" dominant-baseline="central" >テストユーザー1</text><rect x="216.00" y="815.53" width="343.21" height="9.60" fill="#ff9ab2" rx="4.8" /><text x="564.71" y="821.53" font-size="12" fill="#7a7a7a" text-anchor="start" dominant-baseline="central" >7</text><rect x="216.00" y="827.53" width="98.06" height="9.60" fill="#5b85fb" rx="4.8" /><text x="319.56" y="833.53" font-size="12" fill="#7a7a7a" text-anchor="start" dominant-baseline="central" >2</text><text x="207.30" y="827.63" font-size="12" fill="#5c5c5c" text-anchor="end" dominant-baseline="central" >テストユーザー2</text><rect x="216.00" y="846.36" width="98.06" height="9.60" fill="#ff9ab2" rx="4.8" /><text x="319.56" y="852.36" font-size="12" fill="#7a7a7a" text-anchor="start" dominant-baseline="central" >2</text><rect x="216.00" y="858.36" width="392.24" height="9.60" fill="#5b85fb" rx="4.8" /><text x="613.74" y="864.36" font-size="12" fill="#7a7a7a" text-anchor="start" dominant-baseline="central" >8</text><text x="207.30" y="858.46" font-size="12" fill="#5c5c5c" text-anchor="end" dominant-baseline="central" >テストユーザー3</text><rect x="216.00" y="877.19" width="245.15" height="9.60" fill="#ff9ab2" rx="4.8" /><text x="466.65" y="883.19" font-size="12" fill="#7a7a7a" text-anchor="start" dominant-baseline="central" >5</text><rect x="216.00" y="889.19" width="147.09" height="9.60" fill="#5b85fb" rx="4.8" /><text x="368.59" y="895.19" font-size="12" fill="#7a7a7a" text-anchor="start" dominant-baseline="central" >3</text><text x="207.30" y="889.29" font-size="12" fill="#5c5c5c" text-anchor="end" dominant-baseline="central" >テストユーザー4</text><rect x="216.00" y="908.02" width="392.24" height="9.60" fill="#ff9ab2" rx="4.8" /><text x="613.74" y="914.02" font-size="12" fill="#7a7a7a" text-anchor="start" dominant-baseline="central" >8</text><rect x="216.00" y="920.02" width="294.18" height="9.60" fill="#5b85fb" rx="4.8" /><text x="515.68" y="926.02" font-size="12" fill="#7a7a7a" text-anchor="start" dominant-baseline="central" >6</text><text x="207.30" y="920.12" font-size="12" fill="#5c5c5c" text-anchor="end" dominant-baseline="central" >テストユーザー5</text><rect x="216.00" y="938.85" width="49.03" height="9.60" fill="#ff9ab2" rx="4.8" /><text x="270.53" y="944.85" font-size="12" fill="#7a7a7a" text-anchor="start" dominant-baseline="central" >1</text><rect x="216.00" y="950.85" width="441.27" height="9.60" fill="#5b85fb" rx="4.8" /><text x="662.77" y="956.85" font-size="12" fill="#7a7a7a" text-anchor="start" dominant-baseline="central" >9</text><text x="207.30" y="950.95" font-size="12" fill="#5c5c5c" text-anchor="end" dominant-baseline="central" >テストユーザー6</text><rect x="216.00" y="969.68" width="196.12" height="9.60" fill="#ff9ab2" rx="4.8" /><text x="417.62" y="975.68" font-size="12" fill="#7a7a7a" text-anchor="start" dominant-baseline="central" >4</text><rect x="216.00" y="981.68" width="49.03" height="9.60" fill="#5b85fb" rx="4.8" /><text x="270.53" y="987.68" font-size="12" fill="#7a7a7a" text-anchor="start" dominant-baseline="central" >1</text><text x="207.30" y="981.78" font-size="12" fill="#5c5c5c" text-anchor="end" dominant-baseline="central" >テストユーザー7</text><line x1="216.00" y1="780.00" x2="216.00" y2="996.50" stroke="#222" stroke-width="1" /><text x="216.00" y="1011.60" font-size="12" fill="#5c5c5c" text-anchor="middle" dominant-baseline="central" >0</text><text x="314.06" y="1011.60" font-size="12" fill="#5c5c5c" text-anchor="middle" dominant-baseline="central" >2</text><text x="412.12" y="1011.60" font-size="12" fill="#5c5c5c" text-anchor="middle" dominant-baseline="central" >4</text><text x="510.18" y="1011.60" font-size="12" fill="#5c5c5c" text-anchor="middle" dominant-baseline="central" >6</text><text x="608.24" y="1011.60" font-size="12" fill="#5c5c5c" text-anchor="middle" dominant-baseline="central" >8</text><text x="706.30" y="1011.60" font-size="12" fill="#5c5c5c" text-anchor="middle" dominant-baseline="central" >10</text><text x="726.20" y="1037.70" font-size="12" fill="#5c5c5c" text-anchor="middle" dominant-baseline="central" >(件)</text><rect x="68.80" y="1048.00" width="24.80" height="12.60" fill="#ff9ab2" rx="3" /><text x="99.30" y="1056.60" font-size="12" fill="#666" text-anchor="start" dominant-baseline="central" >遅延タスク</text><rect x="167.10" y="1048.00" width="24.80" height="12.60" fill="#5b85fb" rx="3" /><text x="197.60" y="1056.60" font-size="12" fill="#666" text-anchor="start" dominant-baseline="central" >未完了タスク</text><path d="M1509.8 584.2 L1522.2 596.6 M1522.2 584.2 L1509.8 596.6" stroke="#595959" stroke-width="1.6" fill="none"/><path d="M1532.15 1081.20 L1532.15 1086.15 L1527.30 1086.15" stroke="#8c8c8c" stroke-width="1.5" fill="none"/><path d="M826.0 599.8 L832.0 608.8 L838.0 599.8 M832.0 608.8 L832.0 616.8 M826.0 608.6 L838.0 608.6 M826.0 612.3 L838.0 612.3" stroke="#7582d3" stroke-width="1.800" fill="none"/><circle cx="858.0" cy="630.0" r="4.4" fill="none" stroke="#7c8596" stroke-width="1"/><path d="M857.7 627.6 L857.7 630.2 L860.0 630.9" fill="none" stroke="#7c8596" stroke-width="0.9"/><path d="M1028.90 945.70 A137.0 137.0 0 0 1 1235.33 827.60 L1220.02 853.63 A106.8 106.8 0 0 0 1059.10 945.70 Z" fill="#ff9ab2"/><path d="M1234.40 827.05 A137.0 137.0 0 0 1 1285.08 878.13 L1258.81 893.03 A106.8 106.8 0 0 0 1219.30 853.21 Z" fill="#ffc09f"/><path d="M1284.55 877.20 A137.0 137.0 0 0 1 1302.90 945.70 L1272.70 945.70 A106.8 106.8 0 0 0 1258.39 892.30 Z" fill="#4bd3c0"/><line x1="1069.00" y1="945.70" x2="1089.00" y2="945.70" stroke="#ff9ab2" stroke-width="5.2" /><line x1="1069.53" y1="935.57" x2="1080.87" y2="936.76" stroke="#ff9ab2" stroke-width="1.9" /><line x1="1071.12" y1="925.55" x2="1082.27" y2="927.92" stroke="#ff9ab2" stroke-width="1.9" /><line x1="1073.74" y1="915.76" x2="1084.58" y2="919.28" stroke="#ff9ab2" stroke-width="1.9" /><line x1="1077.38" y1="906.29" x2="1087.79" y2="910.92" stroke="#ff9ab2" stroke-width="1.9" /><line x1="1081.98" y1="897.25" x2="1099.30" y2="907.25" stroke="#ff9ab2" stroke-width="5.2" /><line x1="1087.51" y1="888.74" x2="1096.73" y2="895.44" stroke="#ff9ab2" stroke-width="1.9" /><line x1="1093.89" y1="880.86" x2="1102.36" y2="888.49" stroke="#ff9ab2" stroke-width="1.9" /><line x1="1101.06" y1="873.69" x2="1108.69" y2="882.16" stroke="#ff9ab2" stroke-width="1.9" /><line x1="1108.94" y1="867.31" x2="1115.64" y2="876.53" stroke="#ff9ab2" stroke-width="1.9" /><line x1="1117.45" y1="861.78" x2="1127.45" y2="879.10" stroke="#ff9ab2" stroke-width="5.2" /><line x1="1126.49" y1="857.18" x2="1131.12" y2="867.59" stroke="#ff9ab2" stroke-width="1.9" /><line x1="1135.96" y1="853.54" x2="1139.48" y2="864.38" stroke="#ff9ab2" stroke-width="1.9" /><line x1="1145.75" y1="850.92" x2="1148.12" y2="862.07" stroke="#ff9ab2" stroke-width="1.9" /><line x1="1155.77" y1="849.33" x2="1156.96" y2="860.67" stroke="#ff9ab2" stroke-width="1.9" /><line x1="1165.90" y1="848.80" x2="1165.90" y2="868.80" stroke="#ff9ab2" stroke-width="5.2" /><line x1="1176.03" y1="849.33" x2="1174.84" y2="860.67" stroke="#ff9ab2" stroke-width="1.9" /><line x1="1186.05" y1="850.92" x2="1183.68" y2="862.07" stroke="#ff9ab2" stroke-width="1.9" /><line x1="1195.84" y1="853.54" x2="1192.32" y2="864.38" stroke="#ff9ab2" stroke-width="1.9" /><line x1="1205.31" y1="857.18" x2="1200.68" y2="867.59" stroke="#ff9ab2" stroke-width="1.9" /><line x1="1214.35" y1="861.78" x2="1204.35" y2="879.10" stroke="#ff9ab2" stroke-width="5.2" /><line x1="1222.86" y1="867.31" x2="1216.16" y2="876.53" stroke="#ffc09f" stroke-width="1.9" /><line x1="1244.29" y1="888.74" x2="1235.07" y2="895.44" stroke="#ffc09f" stroke-width="1.9" /><line x1="1249.82" y1="897.25" x2="1232.50" y2="907.25" stroke="#4bd3c0" stroke-width="5.2" /><line x1="1254.42" y1="906.29" x2="1244.01" y2="910.92" stroke="#4bd3c0" stroke-width="1.9" /><line x1="1258.06" y1="915.76" x2="1247.22" y2="919.28" stroke="#4bd3c0" stroke-width="1.9" /><line x1="1260.68" y1="925.55" x2="1249.53" y2="927.92" stroke="#4bd3c0" stroke-width="1.9" /><line x1="1262.27" y1="935.57" x2="1250.93" y2="936.76" stroke="#4bd3c0" stroke-width="1.9" /><line x1="1262.80" y1="945.70" x2="1242.80" y2="945.70" stroke="#4bd3c0" stroke-width="5.2" /><path d="M1230.95 894.79 L1253.58 858.02 L1216.81 880.65 Z" fill="#ffc09f"/><text x="1002.40" y="945.70" font-size="14" fill="#555" text-anchor="middle" dominant-baseline="central" transform="rotate(-90 1002.40 945.70)">0%</text><text x="1024.30" y="863.95" font-size="14" fill="#555" text-anchor="middle" dominant-baseline="central" transform="rotate(-60 1024.30 863.95)">20%</text><text x="1084.15" y="804.10" font-size="14" fill="#555" text-anchor="middle" dominant-baseline="central" transform="rotate(-30 1084.15 804.10)">40%</text><text x="1165.90" y="782.20" font-size="14" fill="#555" text-anchor="middle" dominant-baseline="central" transform="rotate(0 1165.90 782.20)">60%</text><text x="1247.65" y="804.10" font-size="14" fill="#555" text-anchor="middle" dominant-baseline="central" transform="rotate(30 1247.65 804.10)">80%</text><text x="1307.50" y="863.95" font-size="14" fill="#555" text-anchor="middle" dominant-baseline="central" transform="rotate(60 1307.50 863.95)">100%</text><text x="1329.40" y="945.70" font-size="14" fill="#555" text-anchor="middle" dominant-baseline="central" transform="rotate(90 1329.40 945.70)">120%</text><rect x="972.90" y="1043.30" width="11.80" height="11.70" fill="#4bd3c0" rx="1.5" /><text x="991.70" y="1050.00" font-size="12" fill="#878d9a" text-anchor="start" dominant-baseline="central" letter-spacing="0.5">≥100%: 目標を達成</text><rect x="1124.20" y="1043.30" width="11.80" height="11.70" fill="#ffc09f" rx="1.5" /><text x="1142.50" y="1050.00" font-size="12" fill="#878d9a" text-anchor="start" dominant-baseline="central" letter-spacing="0">80-100%: 注意が必要</text><rect x="1280.20" y="1043.30" width="11.80" height="11.70" fill="#ff9ab2" rx="1.5" /><text x="1298.50" y="1050.00" font-size="12" fill="#878d9a" text-anchor="start" dominant-baseline="central" letter-spacing="0">&lt;80%: 警告</text><path d="M2266.8 584.2 L2279.2 596.6 M2279.2 584.2 L2266.8 596.6" stroke="#595959" stroke-width="1.6" fill="none"/><path d="M2289.15 1081.20 L2289.15 1086.15 L2284.30 1086.15" stroke="#8c8c8c" stroke-width="1.5" fill="none"/><g transform="translate(1580.35 598.00)" fill="#7582d3"><path d="M2.6 0.3 L5.9 4.300 M13.900 0.3 L10.6 4.300" stroke="#7582d3" stroke-width="1.700" fill="none"/><path d="M4.800 3.2 L11.700 3.2 L14.8 7 L1.700 7 Z"/><path d="M0.3 8.300 L7.5 8.300 L7.5 19 C3 18.200 0 14.8 0.3 8.300 Z"/><path d="M9 8.300 L16.200 8.300 C16.5 14.8 13.5 18.200 9 19 Z"/></g><circle cx="1615.0" cy="630.0" r="4.4" fill="none" stroke="#7c8596" stroke-width="1"/><path d="M1614.7 627.6 L1614.7 630.2 L1617.0 630.9" fill="none" stroke="#7c8596" stroke-width="0.9"/><path d="M2241.300 633 L2247 638.800 L2252.700 633" fill="none" stroke="#8b93a3" stroke-width="1.3"/><line x1="1785.13" y1="702.00" x2="1785.13" y2="995.00" stroke="#dddfe6" stroke-width="1" /><line x1="1871.97" y1="702.00" x2="1871.97" y2="995.00" stroke="#dddfe6" stroke-width="1" /><line x1="1958.80" y1="702.00" x2="1958.80" y2="995.00" stroke="#dddfe6" stroke-width="1" /><line x1="2045.64" y1="702.00" x2="2045.64" y2="995.00" stroke="#dddfe6" stroke-width="1" /><line x1="2132.47" y1="702.00" x2="2132.47" y2="995.00" stroke="#dddfe6" stroke-width="1" /><line x1="2219.31" y1="702.00" x2="2219.31" y2="995.00" stroke="#dddfe6" stroke-width="1" /><line x1="1698.30" y1="702.00" x2="1698.30" y2="995.00" stroke="#222" stroke-width="1" /><rect x="1698.50" y="709.05" width="86.84" height="28.70" fill="#ac8afc" stroke="#fff" stroke-width="1.9"/><text x="1779.93" y="725.40" font-size="12.5" fill="#fff" text-anchor="end" dominant-baseline="central" font-weight="700" >5</text><rect x="1785.34" y="709.05" width="138.94" height="28.70" fill="#5b85fb" stroke="#fff" stroke-width="1.9"/><text x="1918.87" y="725.40" font-size="12.5" fill="#fff" text-anchor="end" dominant-baseline="central" font-weight="700" >8</text><rect x="1924.27" y="709.05" width="52.10" height="28.70" fill="#4bd3c0" stroke="#fff" stroke-width="1.9"/><text x="1970.97" y="725.40" font-size="12.5" fill="#fff" text-anchor="end" dominant-baseline="central" font-weight="700" >3</text><rect x="1976.37" y="709.05" width="104.20" height="28.70" fill="#ffc09f" stroke="#fff" stroke-width="1.9"/><text x="2075.17" y="725.40" font-size="12.5" fill="#fff" text-anchor="end" dominant-baseline="central" font-weight="700" >6</text><rect x="1698.50" y="751.00" width="52.10" height="28.70" fill="#ac8afc" stroke="#fff" stroke-width="1.9"/><text x="1745.20" y="767.35" font-size="12.5" fill="#fff" text-anchor="end" dominant-baseline="central" font-weight="700" >3</text><rect x="1750.60" y="751.00" width="104.20" height="28.70" fill="#5b85fb" stroke="#fff" stroke-width="1.9"/><text x="1849.40" y="767.35" font-size="12.5" fill="#fff" text-anchor="end" dominant-baseline="central" font-weight="700" >6</text><rect x="1854.80" y="751.00" width="156.30" height="28.70" fill="#4bd3c0" stroke="#fff" stroke-width="1.9"/><text x="2005.71" y="767.35" font-size="12.5" fill="#fff" text-anchor="end" dominant-baseline="central" font-weight="700" >9</text><rect x="2011.11" y="751.00" width="34.73" height="28.70" fill="#ffc09f" stroke="#fff" stroke-width="1.9"/><text x="2040.44" y="767.35" font-size="12.5" fill="#fff" text-anchor="end" dominant-baseline="central" font-weight="700" >2</text><rect x="2045.84" y="751.00" width="86.83" height="28.70" fill="#ff9ab2" stroke="#fff" stroke-width="1.9"/><text x="2127.28" y="767.35" font-size="12.5" fill="#fff" text-anchor="end" dominant-baseline="central" font-weight="700" >5</text><rect x="1698.50" y="792.95" width="121.57" height="28.70" fill="#ac8afc" stroke="#fff" stroke-width="1.9"/><text x="1814.67" y="809.30" font-size="12.5" fill="#fff" text-anchor="end" dominant-baseline="central" font-weight="700" >7</text><rect x="1820.07" y="792.95" width="34.73" height="28.70" fill="#5b85fb" stroke="#fff" stroke-width="1.9"/><text x="1849.40" y="809.30" font-size="12.5" fill="#fff" text-anchor="end" dominant-baseline="central" font-weight="700" >2</text><rect x="1854.80" y="792.95" width="86.84" height="28.70" fill="#4bd3c0" stroke="#fff" stroke-width="1.9"/><text x="1936.24" y="809.30" font-size="12.5" fill="#fff" text-anchor="end" dominant-baseline="central" font-weight="700" >5</text><rect x="1698.50" y="834.90" width="69.47" height="28.70" fill="#ac8afc" stroke="#fff" stroke-width="1.9"/><text x="1762.57" y="851.25" font-size="12.5" fill="#fff" text-anchor="end" dominant-baseline="central" font-weight="700" >4</text><rect x="1767.97" y="834.90" width="121.57" height="28.70" fill="#5b85fb" stroke="#fff" stroke-width="1.9"/><text x="1884.14" y="851.25" font-size="12.5" fill="#fff" text-anchor="end" dominant-baseline="central" font-weight="700" >7</text><rect x="1889.54" y="834.90" width="17.37" height="28.70" fill="#4bd3c0" stroke="#fff" stroke-width="1.9"/><text x="1901.50" y="851.25" font-size="12.5" fill="#fff" text-anchor="end" dominant-baseline="central" font-weight="700" >1</text><rect x="1906.90" y="834.90" width="156.30" height="28.70" fill="#ffc09f" stroke="#fff" stroke-width="1.9"/><text x="2057.81" y="851.25" font-size="12.5" fill="#fff" text-anchor="end" dominant-baseline="central" font-weight="700" >9</text><rect x="2063.21" y="834.90" width="86.84" height="28.70" fill="#ff9ab2" stroke="#fff" stroke-width="1.9"/><text x="2144.64" y="851.25" font-size="12.5" fill="#fff" text-anchor="end" dominant-baseline="central" font-weight="700" >5</text><rect x="1698.50" y="876.85" width="104.20" height="28.70" fill="#ac8afc" stroke="#fff" stroke-width="1.9"/><text x="1797.30" y="893.20" font-size="12.5" fill="#fff" text-anchor="end" dominant-baseline="central" font-weight="700" >6</text><rect x="1802.70" y="876.85" width="52.10" height="28.70" fill="#5b85fb" stroke="#fff" stroke-width="1.9"/><text x="1849.40" y="893.20" font-size="12.5" fill="#fff" text-anchor="end" dominant-baseline="central" font-weight="700" >3</text><rect x="1854.80" y="876.85" width="138.94" height="28.70" fill="#4bd3c0" stroke="#fff" stroke-width="1.9"/><text x="1988.34" y="893.20" font-size="12.5" fill="#fff" text-anchor="end" dominant-baseline="central" font-weight="700" >8</text><rect x="1993.74" y="876.85" width="17.37" height="28.70" fill="#ffc09f" stroke="#fff" stroke-width="1.9"/><text x="2005.71" y="893.20" font-size="12.5" fill="#fff" text-anchor="end" dominant-baseline="central" font-weight="700" >1</text><rect x="1698.50" y="918.80" width="34.73" height="28.70" fill="#ac8afc" stroke="#fff" stroke-width="1.9"/><text x="1727.83" y="935.15" font-size="12.5" fill="#fff" text-anchor="end" dominant-baseline="central" font-weight="700" >2</text><rect x="1733.23" y="918.80" width="156.30" height="28.70" fill="#5b85fb" stroke="#fff" stroke-width="1.9"/><text x="1884.14" y="935.15" font-size="12.5" fill="#fff" text-anchor="end" dominant-baseline="central" font-weight="700" >9</text><rect x="1889.54" y="918.80" width="69.47" height="28.70" fill="#4bd3c0" stroke="#fff" stroke-width="1.9"/><text x="1953.61" y="935.15" font-size="12.5" fill="#fff" text-anchor="end" dominant-baseline="central" font-weight="700" >4</text><rect x="1698.50" y="960.75" width="138.94" height="28.70" fill="#ac8afc" stroke="#fff" stroke-width="1.9"/><text x="1832.04" y="977.10" font-size="12.5" fill="#fff" text-anchor="end" dominant-baseline="central" font-weight="700" >8</text><rect x="1837.44" y="960.75" width="17.37" height="28.70" fill="#5b85fb" stroke="#fff" stroke-width="1.9"/><text x="1849.40" y="977.10" font-size="12.5" fill="#fff" text-anchor="end" dominant-baseline="central" font-weight="700" >1</text><rect x="1854.80" y="960.75" width="104.20" height="28.70" fill="#4bd3c0" stroke="#fff" stroke-width="1.9"/><text x="1953.60" y="977.10" font-size="12.5" fill="#fff" text-anchor="end" dominant-baseline="central" font-weight="700" >6</text><rect x="1959.00" y="960.75" width="52.10" height="28.70" fill="#ffc09f" stroke="#fff" stroke-width="1.9"/><text x="2005.71" y="977.10" font-size="12.5" fill="#fff" text-anchor="end" dominant-baseline="central" font-weight="700" >3</text><rect x="2011.11" y="960.75" width="156.30" height="28.70" fill="#ff9ab2" stroke="#fff" stroke-width="1.9"/><text x="2162.01" y="977.10" font-size="12.5" fill="#fff" text-anchor="end" dominant-baseline="central" font-weight="700" >9</text><text x="1689.50" y="724.80" font-size="12" fill="#5c5c5c" text-anchor="end" dominant-baseline="central" >要件定義</text><text x="1689.50" y="766.75" font-size="12" fill="#5c5c5c" text-anchor="end" dominant-baseline="central" >基本設計</text><text x="1689.50" y="808.70" font-size="12" fill="#5c5c5c" text-anchor="end" dominant-baseline="central" >詳細設計</text><text x="1689.50" y="850.65" font-size="12" fill="#5c5c5c" text-anchor="end" dominant-baseline="central" >製造</text><text x="1689.50" y="892.60" font-size="12" fill="#5c5c5c" text-anchor="end" dominant-baseline="central" >単体テスト</text><text x="1689.50" y="934.55" font-size="12" fill="#5c5c5c" text-anchor="end" dominant-baseline="central" >結合テスト</text><text x="1689.50" y="976.50" font-size="12" fill="#5c5c5c" text-anchor="end" dominant-baseline="central" >総合テスト</text><text x="1698.30" y="1011.40" font-size="12" fill="#5c5c5c" text-anchor="middle" dominant-baseline="central" >0</text><text x="1785.13" y="1011.40" font-size="12" fill="#5c5c5c" text-anchor="middle" dominant-baseline="central" >5</text><text x="1871.97" y="1011.40" font-size="12" fill="#5c5c5c" text-anchor="middle" dominant-baseline="central" >10</text><text x="1958.80" y="1011.40" font-size="12" fill="#5c5c5c" text-anchor="middle" dominant-baseline="central" >15</text><text x="2045.64" y="1011.40" font-size="12" fill="#5c5c5c" text-anchor="middle" dominant-baseline="central" >20</text><text x="2132.47" y="1011.40" font-size="12" fill="#5c5c5c" text-anchor="middle" dominant-baseline="central" >25</text><text x="2219.31" y="1011.40" font-size="12" fill="#5c5c5c" text-anchor="middle" dominant-baseline="central" >30</text><text x="2239.30" y="1037.70" font-size="12" fill="#5c5c5c" text-anchor="middle" dominant-baseline="central" >(件)</text><rect x="1711.50" y="1047.95" width="22.80" height="11.50" fill="#ac8afc" rx="3" /><text x="1740.40" y="1056.00" font-size="12" fill="#666" text-anchor="start" dominant-baseline="central" >田中太郎</text><rect x="1798.60" y="1047.95" width="22.80" height="11.50" fill="#5b85fb" rx="3" /><text x="1827.50" y="1056.00" font-size="12" fill="#666" text-anchor="start" dominant-baseline="central" >佐藤花子</text><rect x="1885.70" y="1047.95" width="22.80" height="11.50" fill="#4bd3c0" rx="3" /><text x="1914.60" y="1056.00" font-size="12" fill="#666" text-anchor="start" dominant-baseline="central" >鈴木一郎</text><rect x="1972.80" y="1047.95" width="22.80" height="11.50" fill="#ffc09f" rx="3" /><text x="2001.70" y="1056.00" font-size="12" fill="#666" text-anchor="start" dominant-baseline="central" >高橋美咲</text><rect x="2059.90" y="1047.95" width="22.80" height="11.50" fill="#ff9ab2" rx="3" /><text x="2088.80" y="1056.00" font-size="12" fill="#666" text-anchor="start" dominant-baseline="central" >伊藤健太</text><path d="M2266.8 1120.3 L2279.2 1132.7 M2279.2 1120.3 L2266.8 1132.7" stroke="#595959" stroke-width="1.6" fill="none"/><path d="M2289.15 1491.20 L2289.15 1496.15 L2284.30 1496.15" stroke="#8c8c8c" stroke-width="1.5" fill="none"/><g transform="translate(66.80 1132.50) scale(1.2)"><rect x="0.9" y="2.4" width="13.400" height="13.800" rx="1.2" fill="none" stroke="#7582d3" stroke-width="1.700"/><rect x="0.9" y="2.4" width="13.400" height="3.6" fill="#7582d3"/><rect x="3" y="0" width="1.700" height="3" fill="#7582d3"/><rect x="10.5" y="0" width="1.700" height="3" fill="#7582d3"/><circle cx="11.8" cy="13.200" r="6" fill="#fff"/><circle cx="11.8" cy="13.200" r="4.300" fill="#fff" stroke="#7582d3" stroke-width="1.700"/><path d="M11.700 10.800 L11.700 13.400 L13.600 14.500" stroke="#7582d3" stroke-width="1.200" fill="none"/></g><circle cx="101.9" cy="1166.0" r="4.4" fill="none" stroke="#7c8596" stroke-width="1"/><path d="M101.6 1163.6 L101.6 1166.2 L103.9 1166.9" fill="none" stroke="#7c8596" stroke-width="0.9"/><line x1="572.80" y1="1216.40" x2="572.80" y2="1400.00" stroke="#dddfe6" stroke-width="1" /><line x1="972.40" y1="1216.40" x2="972.40" y2="1400.00" stroke="#dddfe6" stroke-width="1" /><line x1="1372.00" y1="1216.40" x2="1372.00" y2="1400.00" stroke="#dddfe6" stroke-width="1" /><line x1="1771.60" y1="1216.40" x2="1771.60" y2="1400.00" stroke="#dddfe6" stroke-width="1" /><line x1="2171.20" y1="1216.40" x2="2171.20" y2="1400.00" stroke="#dddfe6" stroke-width="1" /><line x1="173.20" y1="1216.40" x2="173.20" y2="1400.00" stroke="#222" stroke-width="1" /><rect x="173.20" y="1222.05" width="79.92" height="24.50" fill="#ac8afc" /><text x="247.92" y="1235.30" font-size="12" fill="#fff" text-anchor="end" dominant-baseline="central" font-weight="700" >2</text><rect x="253.12" y="1222.05" width="159.84" height="24.50" fill="#5b85fb" /><text x="407.76" y="1235.30" font-size="12" fill="#fff" text-anchor="end" dominant-baseline="central" font-weight="700" >4</text><rect x="412.96" y="1222.05" width="239.76" height="24.50" fill="#4bd3c0" /><text x="647.52" y="1235.30" font-size="12" fill="#fff" text-anchor="end" dominant-baseline="central" font-weight="700" >6</text><rect x="652.72" y="1222.05" width="319.68" height="24.50" fill="#ffc09f" /><text x="967.20" y="1235.30" font-size="12" fill="#fff" text-anchor="end" dominant-baseline="central" font-weight="700" >8</text><rect x="972.40" y="1222.05" width="399.60" height="24.50" fill="#ff9ab2" /><text x="1366.80" y="1235.30" font-size="12" fill="#fff" text-anchor="end" dominant-baseline="central" font-weight="700" >10</text><rect x="1372.00" y="1222.05" width="479.52" height="24.50" fill="#ffc8d6" /><text x="1846.32" y="1235.30" font-size="12" fill="#fff" text-anchor="end" dominant-baseline="central" font-weight="700" >12</text><rect x="173.20" y="1258.35" width="159.84" height="24.50" fill="#ac8afc" /><text x="327.84" y="1271.60" font-size="12" fill="#fff" text-anchor="end" dominant-baseline="central" font-weight="700" >4</text><rect x="333.04" y="1258.35" width="319.68" height="24.50" fill="#5b85fb" /><text x="647.52" y="1271.60" font-size="12" fill="#fff" text-anchor="end" dominant-baseline="central" font-weight="700" >8</text><rect x="652.72" y="1258.35" width="479.52" height="24.50" fill="#4bd3c0" /><text x="1127.04" y="1271.60" font-size="12" fill="#fff" text-anchor="end" dominant-baseline="central" font-weight="700" >12</text><rect x="1132.24" y="1258.35" width="159.84" height="24.50" fill="#ff9ab2" /><text x="1286.88" y="1271.60" font-size="12" fill="#fff" text-anchor="end" dominant-baseline="central" font-weight="700" >4</text><rect x="1292.08" y="1258.35" width="319.68" height="24.50" fill="#ffc8d6" /><text x="1606.56" y="1271.60" font-size="12" fill="#fff" text-anchor="end" dominant-baseline="central" font-weight="700" >8</text><rect x="173.20" y="1294.65" width="239.76" height="24.50" fill="#ac8afc" /><text x="407.76" y="1307.90" font-size="12" fill="#fff" text-anchor="end" dominant-baseline="central" font-weight="700" >6</text><rect x="412.96" y="1294.65" width="479.52" height="24.50" fill="#5b85fb" /><text x="887.28" y="1307.90" font-size="12" fill="#fff" text-anchor="end" dominant-baseline="central" font-weight="700" >12</text><rect x="892.48" y="1294.65" width="79.92" height="24.50" fill="#4bd3c0" /><text x="967.20" y="1307.90" font-size="12" fill="#fff" text-anchor="end" dominant-baseline="central" font-weight="700" >2</text><rect x="972.40" y="1294.65" width="319.68" height="24.50" fill="#ffc09f" /><text x="1286.88" y="1307.90" font-size="12" fill="#fff" text-anchor="end" dominant-baseline="central" font-weight="700" >8</text><rect x="1292.08" y="1294.65" width="559.44" height="24.50" fill="#ff9ab2" /><text x="1846.32" y="1307.90" font-size="12" fill="#fff" text-anchor="end" dominant-baseline="central" font-weight="700" >14</text><rect x="1851.52" y="1294.65" width="159.84" height="24.50" fill="#ffc8d6" /><text x="2006.16" y="1307.90" font-size="12" fill="#fff" text-anchor="end" dominant-baseline="central" font-weight="700" >4</text><rect x="173.20" y="1330.95" width="319.68" height="24.50" fill="#ac8afc" /><text x="487.68" y="1344.20" font-size="12" fill="#fff" text-anchor="end" dominant-baseline="central" font-weight="700" >8</text><rect x="492.88" y="1330.95" width="319.68" height="24.50" fill="#4bd3c0" /><text x="807.36" y="1344.20" font-size="12" fill="#fff" text-anchor="end" dominant-baseline="central" font-weight="700" >8</text><rect x="812.56" y="1330.95" width="319.68" height="24.50" fill="#ff9ab2" /><text x="1127.04" y="1344.20" font-size="12" fill="#fff" text-anchor="end" dominant-baseline="central" font-weight="700" >8</text><text x="164.50" y="1235.70" font-size="12" fill="#5c5c5c" text-anchor="end" dominant-baseline="central" >山田太郎</text><text x="164.50" y="1272.00" font-size="12" fill="#5c5c5c" text-anchor="end" dominant-baseline="central" >佐藤花子</text><text x="164.50" y="1308.30" font-size="12" fill="#5c5c5c" text-anchor="end" dominant-baseline="central" >鈴木一郎</text><text x="164.50" y="1344.60" font-size="12" fill="#5c5c5c" text-anchor="end" dominant-baseline="central" >田中美咲</text></svg>
</div></div>
<div class="b" style="left:2332px;top:217px;width:196px;height:1075px;overflow:hidden"><div class="b" style="left:8px;top:24.3px;width:180px;height:124.3px;box-shadow:0 4px 8px 0 rgba(0,0,0,.2),0 6px 20px 0 rgba(0,0,0,.19);background:#fff"></div><div class="b" style="left:8px;top:164.9px;width:180px;height:124.3px;box-shadow:0 4px 8px 0 rgba(0,0,0,.2),0 6px 20px 0 rgba(0,0,0,.19);background:#fff"></div><div class="b" style="left:8px;top:305.4px;width:180px;height:124.5px;box-shadow:0 4px 8px 0 rgba(0,0,0,.2),0 6px 20px 0 rgba(0,0,0,.19);background:#fff"></div><div class="b" style="left:8px;top:446.2px;width:180px;height:123.4px;box-shadow:0 4px 8px 0 rgba(0,0,0,.2),0 6px 20px 0 rgba(0,0,0,.19);background:#fff"></div><div class="b" style="left:8px;top:586.0px;width:180px;height:143.0px;box-shadow:0 4px 8px 0 rgba(0,0,0,.2),0 6px 20px 0 rgba(0,0,0,.19);background:#fff"></div><div class="b" style="left:8px;top:744.8px;width:180px;height:142.8px;box-shadow:0 4px 8px 0 rgba(0,0,0,.2),0 6px 20px 0 rgba(0,0,0,.19);background:#fff"></div><div class="b" style="left:8px;top:904.4px;width:180px;height:124.4px;box-shadow:0 4px 8px 0 rgba(0,0,0,.2),0 6px 20px 0 rgba(0,0,0,.19);background:#fff"></div></div><div class="t" style="left:2364.200px;top:161.700px;width:150px;white-space:normal;word-break:break-all;font-size:16px;line-height:24px;color:#384766;letter-spacing:.02px">ウィジェットパレット</div><div class="b" style="left:2332.0px;top:216.0px;width:196.0px;height:1.0px;background:#e4e7ee"></div><div class="t" style="left:2348.600px;top:248.2px;width:164px;white-space:normal;word-break:break-all;font-size:13px;line-height:19.400px;color:#343b4d">メンバー稼働状況</div><div class="t" style="left:2348.600px;top:388.8px;width:164px;white-space:normal;word-break:break-all;font-size:13px;line-height:19.400px;color:#343b4d">スケジュール遅延状況</div><div class="t" style="left:2348.600px;top:529.3px;width:164px;white-space:normal;word-break:break-all;font-size:13px;line-height:19.400px;color:#343b4d">遅延タスクの遅れ日数合計</div><div class="t" style="left:2348.600px;top:670.1px;width:164px;white-space:normal;word-break:break-all;font-size:13px;line-height:19.400px;color:#343b4d">見込粗利と実行予算粗利</div><div class="t" style="left:2348.600px;top:809.9px;width:164px;white-space:normal;word-break:break-all;font-size:13px;line-height:19.400px;color:#343b4d">工程・対応状況別の障害件数</div><div class="t" style="left:2348.600px;top:968.7px;width:164px;white-space:normal;word-break:break-all;font-size:13px;line-height:19.400px;color:#343b4d">工程・対応希望者別の障害件数</div><div class="t" style="left:2348.600px;top:1128.3px;width:164px;white-space:normal;word-break:break-all;font-size:13px;line-height:19.400px;color:#343b4d">要注意アラート一覧</div><div class="b" style="left:2452.3px;top:1302.3px;width:63.5px;height:35.5px;background:#3f51b5;border-radius:5px"></div><div class="t" style="left:2452.300px;top:1302.300px;width:63.500px;height:35.500px;line-height:36.700px;text-align:center;font-size:14px;font-weight:700;color:#fff">更新</div><svg class="b" style="left:0;top:0;pointer-events:none" width="2552" height="1362" viewBox="0 0 2552 1362"><g fill="#6b75c9"><rect x="2341.200" y="178.200" width="1.700" height="11.600" fill="#9aa2db"/><rect x="2341.200" y="188.300" width="13.700" height="1.500" fill="#8d95d6"/><rect x="2344.100" y="183.100" width="2.600" height="6"/><rect x="2348.200" y="180.200" width="2.600" height="8.900"/><rect x="2352.300" y="185.300" width="2.500" height="3.800"/></g><rect x="2364.7" y="351.72" width="147.5" height="0.6" fill="#f5f5fb"/><rect x="2359.0" y="351.12" width="4.5" height="1.2" fill="#a5a5a5"/><rect x="2364.7" y="341.97" width="147.5" height="0.6" fill="#f5f5fb"/><rect x="2359.0" y="341.37" width="4.5" height="1.2" fill="#a5a5a5"/><rect x="2364.7" y="332.21" width="147.5" height="0.6" fill="#f5f5fb"/><rect x="2359.0" y="331.61" width="4.5" height="1.2" fill="#a5a5a5"/><rect x="2364.7" y="322.46" width="147.5" height="0.6" fill="#f5f5fb"/><rect x="2359.0" y="321.86" width="4.5" height="1.2" fill="#a5a5a5"/><rect x="2364.7" y="312.70" width="147.5" height="0.6" fill="#f5f5fb"/><rect x="2359.0" y="312.10" width="4.5" height="1.2" fill="#a5a5a5"/><rect x="2364.7" y="302.95" width="147.5" height="0.6" fill="#f5f5fb"/><rect x="2359.0" y="302.35" width="4.5" height="1.2" fill="#a5a5a5"/><rect x="2364.7" y="293.19" width="147.5" height="0.6" fill="#f5f5fb"/><rect x="2359.0" y="292.59" width="4.5" height="1.2" fill="#a5a5a5"/><rect x="2364.7" y="283.44" width="147.5" height="0.6" fill="#f5f5fb"/><rect x="2359.0" y="282.84" width="4.5" height="1.2" fill="#a5a5a5"/><rect x="2364.7" y="273.68" width="147.5" height="0.6" fill="#f5f5fb"/><rect x="2359.0" y="273.08" width="4.5" height="1.2" fill="#a5a5a5"/><rect x="2367.3" y="273.4" width="0.6" height="78.3" fill="#f5f5fb"/><rect x="2385.7" y="273.4" width="0.6" height="78.3" fill="#f5f5fb"/><rect x="2404.0" y="273.4" width="0.6" height="78.3" fill="#f5f5fb"/><rect x="2422.4" y="273.4" width="0.6" height="78.3" fill="#f5f5fb"/><rect x="2440.8" y="273.4" width="0.6" height="78.3" fill="#f5f5fb"/><rect x="2459.1" y="273.4" width="0.6" height="78.3" fill="#f5f5fb"/><rect x="2477.5" y="273.4" width="0.6" height="78.3" fill="#f5f5fb"/><rect x="2495.9" y="273.4" width="0.6" height="78.3" fill="#f5f5fb"/><rect x="2514.2" y="273.4" width="0.6" height="78.3" fill="#f5f5fb"/><rect x="2372.26" y="307.16" width="8.43" height="12.04" fill="#5b85fb"/><rect x="2372.26" y="319.21" width="8.43" height="18.97" fill="#ac8afc"/><rect x="2372.26" y="338.17" width="8.43" height="8.13" fill="#4bd3c0"/><rect x="2372.26" y="346.30" width="8.43" height="5.42" fill="#ffc09f"/><rect x="2375.87" y="352.93" width="1.2" height="1" fill="#bbb"/><rect x="2390.62" y="289.10" width="8.43" height="23.48" fill="#5b85fb"/><rect x="2390.62" y="312.58" width="8.43" height="17.16" fill="#ac8afc"/><rect x="2390.62" y="329.74" width="8.43" height="15.35" fill="#4bd3c0"/><rect x="2390.62" y="345.10" width="8.43" height="6.62" fill="#ffc09f"/><rect x="2394.24" y="352.93" width="1.2" height="1" fill="#bbb"/><rect x="2408.99" y="281.87" width="8.43" height="15.66" fill="#5b85fb"/><rect x="2408.99" y="297.53" width="8.43" height="32.52" fill="#ac8afc"/><rect x="2408.99" y="330.04" width="8.43" height="19.27" fill="#4bd3c0"/><rect x="2408.99" y="349.31" width="8.43" height="2.41" fill="#ffc09f"/><rect x="2412.60" y="352.93" width="1.2" height="1" fill="#bbb"/><rect x="2427.36" y="292.11" width="8.43" height="22.88" fill="#5b85fb"/><rect x="2427.36" y="314.99" width="8.43" height="16.86" fill="#ac8afc"/><rect x="2427.36" y="331.85" width="8.43" height="4.22" fill="#4bd3c0"/><rect x="2427.36" y="336.07" width="8.43" height="15.66" fill="#ffc09f"/><rect x="2430.97" y="352.93" width="1.2" height="1" fill="#bbb"/><rect x="2445.72" y="310.17" width="8.43" height="12.65" fill="#5b85fb"/><rect x="2445.72" y="322.82" width="8.43" height="9.94" fill="#ac8afc"/><rect x="2445.72" y="332.75" width="8.43" height="9.33" fill="#4bd3c0"/><rect x="2445.72" y="342.09" width="8.43" height="9.63" fill="#ffc09f"/><rect x="2449.33" y="352.93" width="1.2" height="1" fill="#bbb"/><rect x="2464.09" y="298.43" width="8.43" height="19.57" fill="#5b85fb"/><rect x="2464.09" y="318.00" width="8.43" height="16.86" fill="#ac8afc"/><rect x="2464.09" y="334.86" width="8.43" height="9.94" fill="#4bd3c0"/><rect x="2464.09" y="344.80" width="8.43" height="6.92" fill="#ffc09f"/><rect x="2467.70" y="352.93" width="1.2" height="1" fill="#bbb"/><rect x="2482.45" y="287.89" width="8.43" height="30.71" fill="#5b85fb"/><rect x="2482.45" y="318.60" width="8.43" height="14.45" fill="#ac8afc"/><rect x="2482.45" y="333.06" width="8.43" height="8.73" fill="#4bd3c0"/><rect x="2482.45" y="341.79" width="8.43" height="9.94" fill="#ffc09f"/><rect x="2486.07" y="352.93" width="1.2" height="1" fill="#bbb"/><rect x="2500.82" y="303.25" width="8.43" height="9.33" fill="#5b85fb"/><rect x="2500.82" y="312.58" width="8.43" height="29.51" fill="#ac8afc"/><rect x="2500.82" y="342.09" width="8.43" height="5.72" fill="#4bd3c0"/><rect x="2500.82" y="347.81" width="8.43" height="3.91" fill="#ffc09f"/><rect x="2504.43" y="352.93" width="1.2" height="1" fill="#bbb"/><rect x="2397.6" y="413.9" width="0.6" height="78" fill="#f6f6fa"/><rect x="2410.5" y="413.9" width="0.6" height="78" fill="#f6f6fa"/><rect x="2385.3" y="419.40" width="56.3" height="5.200" rx="1.700" fill="#6d92fb"/><rect x="2372.3" y="421.20" width="5" height="1.100" fill="#b0b0b0"/><rect x="2378.3" y="421.20" width="4.500" height="1.100" fill="#c6c6c6"/><rect x="2385.3" y="429.37" width="68.0" height="5.200" rx="1.700" fill="#6d92fb"/><rect x="2372.3" y="431.17" width="5" height="1.100" fill="#b0b0b0"/><rect x="2378.3" y="431.17" width="4.500" height="1.100" fill="#c6c6c6"/><rect x="2385.3" y="439.34" width="29.2" height="5.200" rx="1.700" fill="#6d92fb"/><rect x="2372.3" y="441.14" width="5" height="1.100" fill="#b0b0b0"/><rect x="2378.3" y="441.14" width="4.500" height="1.100" fill="#c6c6c6"/><rect x="2385.3" y="449.31" width="88.8" height="5.200" rx="1.700" fill="#6d92fb"/><rect x="2372.3" y="451.11" width="5" height="1.100" fill="#b0b0b0"/><rect x="2378.3" y="451.11" width="4.500" height="1.100" fill="#c6c6c6"/><rect x="2385.3" y="459.28" width="41.5" height="5.200" rx="1.700" fill="#6d92fb"/><rect x="2372.3" y="461.08" width="5" height="1.100" fill="#b0b0b0"/><rect x="2378.3" y="461.08" width="4.500" height="1.100" fill="#c6c6c6"/><rect x="2385.3" y="469.25" width="21.4" height="5.200" rx="1.700" fill="#6d92fb"/><rect x="2372.3" y="471.05" width="5" height="1.100" fill="#b0b0b0"/><rect x="2378.3" y="471.05" width="4.500" height="1.100" fill="#c6c6c6"/><rect x="2385.3" y="479.22" width="66.5" height="5.200" rx="1.700" fill="#6d92fb"/><rect x="2372.3" y="481.02" width="5" height="1.100" fill="#b0b0b0"/><rect x="2378.3" y="481.02" width="4.500" height="1.100" fill="#c6c6c6"/><rect x="2385.6" y="493.7" width="1" height="1.300" fill="#b9b9b9"/><rect x="2398.4" y="493.7" width="1" height="1.300" fill="#b9b9b9"/><rect x="2411.3" y="493.7" width="1" height="1.300" fill="#b9b9b9"/><rect x="2424.1" y="493.7" width="1" height="1.300" fill="#b9b9b9"/><rect x="2436.9" y="493.7" width="1" height="1.300" fill="#b9b9b9"/><rect x="2449.8" y="493.7" width="1" height="1.300" fill="#b9b9b9"/><rect x="2462.6" y="493.7" width="1" height="1.300" fill="#b9b9b9"/><rect x="2475.4" y="493.7" width="1" height="1.300" fill="#b9b9b9"/><rect x="2397.6" y="554.4" width="0.6" height="78" fill="#f6f6fa"/><rect x="2410.5" y="554.4" width="0.6" height="78" fill="#f6f6fa"/><rect x="2385.3" y="559.90" width="56.3" height="5.200" rx="1.700" fill="#6d92fb"/><rect x="2372.3" y="561.70" width="5" height="1.100" fill="#b0b0b0"/><rect x="2378.3" y="561.70" width="4.500" height="1.100" fill="#c6c6c6"/><rect x="2385.3" y="569.87" width="68.0" height="5.200" rx="1.700" fill="#6d92fb"/><rect x="2372.3" y="571.67" width="5" height="1.100" fill="#b0b0b0"/><rect x="2378.3" y="571.67" width="4.500" height="1.100" fill="#c6c6c6"/><rect x="2385.3" y="579.84" width="29.2" height="5.200" rx="1.700" fill="#6d92fb"/><rect x="2372.3" y="581.64" width="5" height="1.100" fill="#b0b0b0"/><rect x="2378.3" y="581.64" width="4.500" height="1.100" fill="#c6c6c6"/><rect x="2385.3" y="589.81" width="88.8" height="5.200" rx="1.700" fill="#6d92fb"/><rect x="2372.3" y="591.61" width="5" height="1.100" fill="#b0b0b0"/><rect x="2378.3" y="591.61" width="4.500" height="1.100" fill="#c6c6c6"/><rect x="2385.3" y="599.78" width="41.5" height="5.200" rx="1.700" fill="#6d92fb"/><rect x="2372.3" y="601.58" width="5" height="1.100" fill="#b0b0b0"/><rect x="2378.3" y="601.58" width="4.500" height="1.100" fill="#c6c6c6"/><rect x="2385.3" y="609.75" width="21.4" height="5.200" rx="1.700" fill="#6d92fb"/><rect x="2372.3" y="611.55" width="5" height="1.100" fill="#b0b0b0"/><rect x="2378.3" y="611.55" width="4.500" height="1.100" fill="#c6c6c6"/><rect x="2385.3" y="619.72" width="66.5" height="5.200" rx="1.700" fill="#6d92fb"/><rect x="2372.3" y="621.52" width="5" height="1.100" fill="#b0b0b0"/><rect x="2378.3" y="621.52" width="4.500" height="1.100" fill="#c6c6c6"/><rect x="2385.6" y="634.2" width="1" height="1.300" fill="#b9b9b9"/><rect x="2398.4" y="634.2" width="1" height="1.300" fill="#b9b9b9"/><rect x="2411.3" y="634.2" width="1" height="1.300" fill="#b9b9b9"/><rect x="2424.1" y="634.2" width="1" height="1.300" fill="#b9b9b9"/><rect x="2436.9" y="634.2" width="1" height="1.300" fill="#b9b9b9"/><rect x="2449.8" y="634.2" width="1" height="1.300" fill="#b9b9b9"/><rect x="2462.6" y="634.2" width="1" height="1.300" fill="#b9b9b9"/><rect x="2475.4" y="634.2" width="1" height="1.300" fill="#b9b9b9"/><path d="M2371.7 760.1 A64.4 64.4 0 0 1 2500.5 760.1" fill="none" stroke="#5b85fb" stroke-width="2.800" stroke-linecap="round"/><line x1="2436.1" y1="695.7" x2="2436.1" y2="704.7" stroke="#5b85fb" stroke-width="1.6"/><line x1="2436.1" y1="760.1" x2="2480.700" y2="735.900" stroke="#5b85fb" stroke-width="2.400" stroke-linecap="round"/><circle cx="2436.1" cy="760.1" r="3.600" fill="#5b85fb"/><rect x="2397.6" y="854.3" width="0.6" height="78" fill="#f6f6fa"/><rect x="2410.5" y="854.3" width="0.6" height="78" fill="#f6f6fa"/><rect x="2385.3" y="859.80" width="56.3" height="5.200" rx="1.700" fill="#6d92fb"/><rect x="2372.3" y="861.60" width="5" height="1.100" fill="#b0b0b0"/><rect x="2378.3" y="861.60" width="4.500" height="1.100" fill="#c6c6c6"/><rect x="2385.3" y="869.77" width="68.0" height="5.200" rx="1.700" fill="#6d92fb"/><rect x="2372.3" y="871.57" width="5" height="1.100" fill="#b0b0b0"/><rect x="2378.3" y="871.57" width="4.500" height="1.100" fill="#c6c6c6"/><rect x="2385.3" y="879.74" width="29.2" height="5.200" rx="1.700" fill="#6d92fb"/><rect x="2372.3" y="881.54" width="5" height="1.100" fill="#b0b0b0"/><rect x="2378.3" y="881.54" width="4.500" height="1.100" fill="#c6c6c6"/><rect x="2385.3" y="889.71" width="88.8" height="5.200" rx="1.700" fill="#6d92fb"/><rect x="2372.3" y="891.51" width="5" height="1.100" fill="#b0b0b0"/><rect x="2378.3" y="891.51" width="4.500" height="1.100" fill="#c6c6c6"/><rect x="2385.3" y="899.68" width="41.5" height="5.200" rx="1.700" fill="#6d92fb"/><rect x="2372.3" y="901.48" width="5" height="1.100" fill="#b0b0b0"/><rect x="2378.3" y="901.48" width="4.500" height="1.100" fill="#c6c6c6"/><rect x="2385.3" y="909.65" width="21.4" height="5.200" rx="1.700" fill="#6d92fb"/><rect x="2372.3" y="911.45" width="5" height="1.100" fill="#b0b0b0"/><rect x="2378.3" y="911.45" width="4.500" height="1.100" fill="#c6c6c6"/><rect x="2385.3" y="919.62" width="66.5" height="5.200" rx="1.700" fill="#6d92fb"/><rect x="2372.3" y="921.42" width="5" height="1.100" fill="#b0b0b0"/><rect x="2378.3" y="921.42" width="4.500" height="1.100" fill="#c6c6c6"/><rect x="2385.6" y="934.1" width="1" height="1.300" fill="#b9b9b9"/><rect x="2398.4" y="934.1" width="1" height="1.300" fill="#b9b9b9"/><rect x="2411.3" y="934.1" width="1" height="1.300" fill="#b9b9b9"/><rect x="2424.1" y="934.1" width="1" height="1.300" fill="#b9b9b9"/><rect x="2436.9" y="934.1" width="1" height="1.300" fill="#b9b9b9"/><rect x="2449.8" y="934.1" width="1" height="1.300" fill="#b9b9b9"/><rect x="2462.6" y="934.1" width="1" height="1.300" fill="#b9b9b9"/><rect x="2475.4" y="934.1" width="1" height="1.300" fill="#b9b9b9"/><rect x="2397.6" y="1013.1" width="0.6" height="78" fill="#f6f6fa"/><rect x="2410.5" y="1013.1" width="0.6" height="78" fill="#f6f6fa"/><rect x="2385.3" y="1018.60" width="56.3" height="5.200" rx="1.700" fill="#6d92fb"/><rect x="2372.3" y="1020.40" width="5" height="1.100" fill="#b0b0b0"/><rect x="2378.3" y="1020.40" width="4.500" height="1.100" fill="#c6c6c6"/><rect x="2385.3" y="1028.57" width="68.0" height="5.200" rx="1.700" fill="#6d92fb"/><rect x="2372.3" y="1030.37" width="5" height="1.100" fill="#b0b0b0"/><rect x="2378.3" y="1030.37" width="4.500" height="1.100" fill="#c6c6c6"/><rect x="2385.3" y="1038.54" width="29.2" height="5.200" rx="1.700" fill="#6d92fb"/><rect x="2372.3" y="1040.34" width="5" height="1.100" fill="#b0b0b0"/><rect x="2378.3" y="1040.34" width="4.500" height="1.100" fill="#c6c6c6"/><rect x="2385.3" y="1048.51" width="88.8" height="5.200" rx="1.700" fill="#6d92fb"/><rect x="2372.3" y="1050.31" width="5" height="1.100" fill="#b0b0b0"/><rect x="2378.3" y="1050.31" width="4.500" height="1.100" fill="#c6c6c6"/><rect x="2385.3" y="1058.48" width="41.5" height="5.200" rx="1.700" fill="#6d92fb"/><rect x="2372.3" y="1060.28" width="5" height="1.100" fill="#b0b0b0"/><rect x="2378.3" y="1060.28" width="4.500" height="1.100" fill="#c6c6c6"/><rect x="2385.3" y="1068.45" width="21.4" height="5.200" rx="1.700" fill="#6d92fb"/><rect x="2372.3" y="1070.25" width="5" height="1.100" fill="#b0b0b0"/><rect x="2378.3" y="1070.25" width="4.500" height="1.100" fill="#c6c6c6"/><rect x="2385.3" y="1078.42" width="66.5" height="5.200" rx="1.700" fill="#6d92fb"/><rect x="2372.3" y="1080.22" width="5" height="1.100" fill="#b0b0b0"/><rect x="2378.3" y="1080.22" width="4.500" height="1.100" fill="#c6c6c6"/><rect x="2385.6" y="1092.9" width="1" height="1.300" fill="#b9b9b9"/><rect x="2398.4" y="1092.9" width="1" height="1.300" fill="#b9b9b9"/><rect x="2411.3" y="1092.9" width="1" height="1.300" fill="#b9b9b9"/><rect x="2424.1" y="1092.9" width="1" height="1.300" fill="#b9b9b9"/><rect x="2436.9" y="1092.9" width="1" height="1.300" fill="#b9b9b9"/><rect x="2449.8" y="1092.9" width="1" height="1.300" fill="#b9b9b9"/><rect x="2462.6" y="1092.9" width="1" height="1.300" fill="#b9b9b9"/><rect x="2475.4" y="1092.9" width="1" height="1.300" fill="#b9b9b9"/><rect x="2385" y="1148.300" width="89.5" height="89.5" fill="#5b85fb"/><rect x="2387.900" y="1151.200" width="84.400" height="23.200" fill="#fff"/><rect x="2387.9" y="1183.900" width="18.7" height="51.400" fill="#fff"/><rect x="2420.6" y="1183.900" width="18.4" height="51.400" fill="#fff"/><rect x="2453.3" y="1183.900" width="19.0" height="51.400" fill="#fff"/></svg><div class="b" style="left:2012.0px;top:144.6px;width:226.9px;height:26.4px;background:#fff;border:1px solid #e3e6ee;border-radius:4px;box-shadow:0 1px 4px rgba(0,0,0,.08)"></div><div class="t" style="top:150.6px;height:18px;line-height:18px;font-size:12px;color:#2b2b2b;left:2023.0px;">参照可能なプロジェクトがありません</div><div class="b" style="left:1987.6px;top:102.0px;width:273.4px;height:80.0px;border:6.5px solid #fb0007;border-radius:5px"></div>
</body></html>
